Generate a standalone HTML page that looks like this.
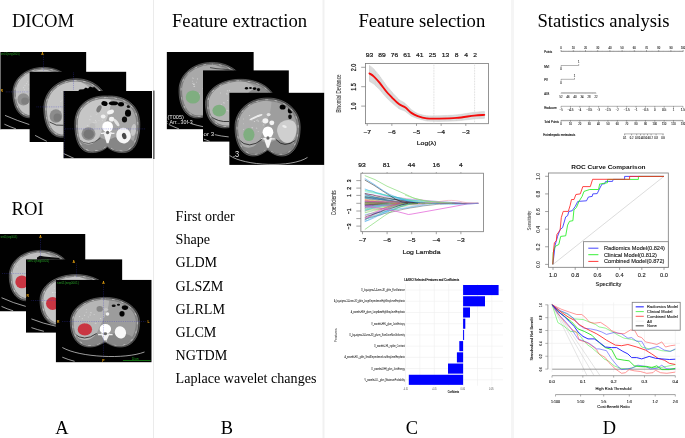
<!DOCTYPE html>
<html><head><meta charset="utf-8"><title>Radiomics workflow</title>
<style>
html,body{margin:0;padding:0;background:#fff;-webkit-font-smoothing:antialiased;}
body{width:685px;height:438px;overflow:hidden;font-family:"Liberation Serif",serif;}
svg{display:block;will-change:transform;opacity:0.999;filter:blur(0.32px);}
.ff-s{font-family:"Liberation Serif",serif;}
.ff-n{font-family:"Liberation Sans",sans-serif;}
</style></head><body>
<svg width="685" height="438" viewBox="0 0 685 438">
<rect width="685" height="438" fill="#fff"/>
<rect x="153" y="0" width="1" height="438" fill="#ebebeb"/>
<rect x="322.5" y="0" width="2" height="438" fill="#f1f1f1"/>
<rect x="511" y="0" width="3" height="438" fill="#f5f5f5"/>
<text class="ff-s" x="11.9" y="26.9" font-size="18.65" text-anchor="start" fill="#000" font-weight="normal" >DICOM</text>
<text class="ff-s" x="11.6" y="215.1" font-size="18.65" text-anchor="start" fill="#000" font-weight="normal" >ROI</text>
<text class="ff-s" x="172.0" y="26.9" font-size="18.65" text-anchor="start" fill="#000" font-weight="normal" >Feature extraction</text>
<text class="ff-s" x="358.4" y="26.9" font-size="18.65" text-anchor="start" fill="#000" font-weight="normal" >Feature selection</text>
<text class="ff-s" x="537.4" y="26.9" font-size="18.65" text-anchor="start" fill="#000" font-weight="normal" >Statistics analysis</text>
<text class="ff-s" x="62" y="434.4" font-size="18.4" text-anchor="middle" fill="#000" font-weight="normal" >A</text>
<text class="ff-s" x="227" y="434.4" font-size="18.4" text-anchor="middle" fill="#000" font-weight="normal" >B</text>
<text class="ff-s" x="412" y="434.4" font-size="18.4" text-anchor="middle" fill="#000" font-weight="normal" >C</text>
<text class="ff-s" x="609.3" y="434.4" font-size="18.4" text-anchor="middle" fill="#000" font-weight="normal" >D</text>
<text class="ff-s" x="175.6" y="221.0" font-size="14.1" text-anchor="start" fill="#000" font-weight="normal" >First order</text>
<text class="ff-s" x="175.6" y="244.2" font-size="14.1" text-anchor="start" fill="#000" font-weight="normal" >Shape</text>
<text class="ff-s" x="175.6" y="267.4" font-size="14.1" text-anchor="start" fill="#000" font-weight="normal" >GLDM</text>
<text class="ff-s" x="175.6" y="290.6" font-size="14.1" text-anchor="start" fill="#000" font-weight="normal" >GLSZM</text>
<text class="ff-s" x="175.6" y="313.8" font-size="14.1" text-anchor="start" fill="#000" font-weight="normal" >GLRLM</text>
<text class="ff-s" x="175.6" y="337.0" font-size="14.1" text-anchor="start" fill="#000" font-weight="normal" >GLCM</text>
<text class="ff-s" x="175.6" y="360.2" font-size="14.1" text-anchor="start" fill="#000" font-weight="normal" >NGTDM</text>
<text class="ff-s" x="175.6" y="383.4" font-size="14.1" text-anchor="start" fill="#000" font-weight="normal" >Laplace wavelet changes</text>
<defs>
<filter id="b4" x="-10%" y="-10%" width="120%" height="120%"><feGaussianBlur stdDeviation="0.45"/></filter>
<filter id="b7" x="-10%" y="-10%" width="120%" height="120%"><feGaussianBlur stdDeviation="0.8"/></filter>
<filter id="b3" x="-10%" y="-10%" width="120%" height="120%"><feGaussianBlur stdDeviation="0.3"/></filter>
</defs>
<rect x="0" y="52" width="1.2" height="77.4" fill="#6e6e6e"/>
<clipPath id="ctc1"><rect x="0.9" y="52" width="85.50" height="77.40"/></clipPath><clipPath id="ctb1"><path d="M43.50,69.79 C59.01,69.79 71.19,79.37 71.19,92.60 C71.19,105.83 65.65,115.41 55.68,115.41 C49.59,115.41 46.27,112.21 43.50,110.84 C40.73,112.21 37.41,115.41 31.32,115.41 C21.35,115.41 15.81,105.83 15.81,92.60 C15.81,79.37 27.99,69.79 43.50,69.79 Z"/></clipPath><g clip-path="url(#ctc1)"><rect x="0.9" y="52" width="85.50" height="77.40" fill="#000"/><g filter="url(#b4)"><path d="M5,115.4 Q18,121 29.5,124.6" fill="none" stroke="#e0e0e0" stroke-width="0.7"/><path d="M4.4,124.2 Q10,126.8 16,128.9" fill="none" stroke="#e0e0e0" stroke-width="0.7"/><path d="M43.50,67.40 C60.64,67.40 74.10,77.98 74.10,92.60 C74.10,107.22 67.98,117.80 56.96,117.80 C50.23,117.80 46.56,114.27 43.50,112.76 C40.44,114.27 36.77,117.80 30.04,117.80 C19.02,117.80 12.90,107.22 12.90,92.60 C12.90,77.98 26.36,67.40 43.50,67.40 Z" fill="#343434" stroke="#909090" stroke-width="0.5"/><path d="M43.50,68.21 C60.09,68.21 73.12,78.45 73.12,92.60 C73.12,106.75 67.20,116.99 56.53,116.99 C50.02,116.99 46.46,113.58 43.50,112.11 C40.54,113.58 36.98,116.99 30.47,116.99 C19.80,116.99 13.88,106.75 13.88,92.60 C13.88,78.45 26.91,68.21 43.50,68.21 Z" fill="#8a8a8a"/><path d="M43.50,69.04 C59.52,69.04 72.11,78.93 72.11,92.60 C72.11,106.27 66.39,116.16 56.09,116.16 C49.79,116.16 46.36,112.86 43.50,111.45 C40.64,112.86 37.21,116.16 30.91,116.16 C20.61,116.16 14.89,106.27 14.89,92.60 C14.89,78.93 27.48,69.04 43.50,69.04 Z" fill="none" stroke="#f2f2f2" stroke-width="0.8" stroke-dasharray="2.6 6.5" stroke-dashoffset="2" opacity="0.6"/><path d="M43.50,69.79 C59.01,69.79 71.19,79.37 71.19,92.60 C71.19,105.83 65.65,115.41 55.68,115.41 C49.59,115.41 46.27,112.21 43.50,110.84 C40.73,112.21 37.41,115.41 31.32,115.41 C21.35,115.41 15.81,105.83 15.81,92.60 C15.81,79.37 27.99,69.79 43.50,69.79 Z" fill="#a2a2a2" stroke="#5a5a5a" stroke-width="0.35"/><g clip-path="url(#ctb1)"><ellipse cx="37.99" cy="93.10" rx="26.32" ry="24.70" fill="#c2c2c2" /><ellipse cx="60.33" cy="90.08" rx="12.85" ry="13.86" fill="#8c8c8c" /><ellipse cx="45.03" cy="109.23" rx="7.96" ry="6.55" fill="#808080" /><ellipse cx="43.50" cy="106.46" rx="4.59" ry="4.28" fill="#ffffff" /><ellipse cx="33.97" cy="97.56" rx="0.53" ry="0.35" fill="#e2e2e2" transform="rotate(-1.2581593142261411 33.97 97.56)" opacity="0.8"/><ellipse cx="24.52" cy="89.83" rx="0.60" ry="0.37" fill="#e2e2e2" transform="rotate(-29.543887764900703 24.52 89.83)" opacity="0.8"/><ellipse cx="29.00" cy="84.80" rx="0.72" ry="0.50" fill="#e2e2e2" transform="rotate(43.91346570892348 29.00 84.80)" opacity="0.8"/><ellipse cx="34.14" cy="88.15" rx="0.48" ry="0.48" fill="#e2e2e2" transform="rotate(9.065181172855034 34.14 88.15)" opacity="0.8"/><ellipse cx="33.06" cy="98.14" rx="0.83" ry="0.51" fill="#e2e2e2" transform="rotate(-34.068458035924635 33.06 98.14)" opacity="0.8"/><ellipse cx="30.20" cy="91.13" rx="0.89" ry="0.36" fill="#e2e2e2" transform="rotate(27.25251174503056 30.20 91.13)" opacity="0.8"/><ellipse cx="23.60" cy="87.68" rx="0.64" ry="0.51" fill="#e2e2e2" transform="rotate(11.991618015226152 23.60 87.68)" opacity="0.8"/><ellipse cx="29.82" cy="92.24" rx="0.61" ry="0.53" fill="#e2e2e2" transform="rotate(-42.57572427746677 29.82 92.24)" opacity="0.8"/><ellipse cx="27.57" cy="81.83" rx="0.44" ry="0.35" fill="#e2e2e2" transform="rotate(22.349538630218888 27.57 81.83)" opacity="0.8"/><ellipse cx="25.65" cy="91.90" rx="0.61" ry="0.33" fill="#e2e2e2" transform="rotate(24.55198931804702 25.65 91.90)" opacity="0.8"/><ellipse cx="24.98" cy="85.67" rx="0.54" ry="0.50" fill="#e2e2e2" transform="rotate(38.875863841685415 24.98 85.67)" opacity="0.8"/><ellipse cx="28.46" cy="88.87" rx="0.43" ry="0.34" fill="#e2e2e2" transform="rotate(-50.53891606667588 28.46 88.87)" opacity="0.8"/><ellipse cx="26.61" cy="83.55" rx="0.46" ry="0.53" fill="#e2e2e2" transform="rotate(15.574352496848533 26.61 83.55)" opacity="0.8"/><ellipse cx="33.13" cy="79.43" rx="0.72" ry="0.43" fill="#e2e2e2" transform="rotate(58.16804408075693 33.13 79.43)" opacity="0.8"/><ellipse cx="23.40" cy="99.40" rx="6.00" ry="6.20" fill="#909090" /><ellipse cx="25.00" cy="101.00" rx="3.80" ry="3.60" fill="#7e7e7e" /></g></g><line x1="43.4" y1="55.5" x2="43.4" y2="70.5" stroke="#3c3cc8" stroke-width="0.55" stroke-dasharray="0.8 1.0" opacity="0.75"/><line x1="5.8" y1="91.9" x2="29.4" y2="91.9" stroke="#5a5ad8" stroke-width="0.55" stroke-dasharray="0.8 1.0" opacity="0.75"/><text class="ff-n" x="42.4" y="55.2" font-size="3.4" font-weight="bold" text-anchor="middle" fill="#f0a810">A</text><text class="ff-n" x="1.8" y="91.8" font-size="3.4" font-weight="bold" text-anchor="middle" fill="#f0a810">R</text><text class="ff-n" x="0.2" y="54.8" font-size="2.9" fill="#2aaa2a" opacity="0.95" textLength="19.6" lengthAdjust="spacingAndGlyphs">ser01(seg0001)</text></g>
<clipPath id="ctc2"><rect x="29.4" y="71.6" width="97.00" height="70.40"/></clipPath><clipPath id="ctb2"><path d="M76.00,81.48 C92.32,81.48 105.14,92.62 105.14,108.00 C105.14,123.38 99.31,134.52 88.82,134.52 C82.41,134.52 78.91,130.80 76.00,129.21 C73.09,130.80 69.59,134.52 63.18,134.52 C52.69,134.52 46.86,123.38 46.86,108.00 C46.86,92.62 59.68,81.48 76.00,81.48 Z"/></clipPath><g clip-path="url(#ctc2)"><rect x="29.4" y="71.6" width="97.00" height="70.40" fill="#000"/><g filter="url(#b4)"><path d="M35.1,135.4 Q41,138.6 46.8,141.3" fill="none" stroke="#e0e0e0" stroke-width="0.7"/><path d="M76.00,78.70 C94.03,78.70 108.20,91.01 108.20,108.00 C108.20,124.99 101.76,137.30 90.17,137.30 C83.08,137.30 79.22,133.20 76.00,131.44 C72.78,133.20 68.92,137.30 61.83,137.30 C50.24,137.30 43.80,124.99 43.80,108.00 C43.80,91.01 57.97,78.70 76.00,78.70 Z" fill="#343434" stroke="#909090" stroke-width="0.5"/><path d="M76.00,79.64 C93.45,79.64 107.17,91.55 107.17,108.00 C107.17,124.45 100.94,136.36 89.71,136.36 C82.86,136.36 79.12,132.39 76.00,130.69 C72.88,132.39 69.14,136.36 62.29,136.36 C51.06,136.36 44.83,124.45 44.83,108.00 C44.83,91.55 58.55,79.64 76.00,79.64 Z" fill="#8a8a8a"/><path d="M76.00,80.60 C92.86,80.60 106.11,92.11 106.11,108.00 C106.11,123.89 100.09,135.40 89.25,135.40 C82.62,135.40 79.01,131.56 76.00,129.92 C72.99,131.56 69.38,135.40 62.75,135.40 C51.91,135.40 45.89,123.89 45.89,108.00 C45.89,92.11 59.14,80.60 76.00,80.60 Z" fill="none" stroke="#f2f2f2" stroke-width="0.8" stroke-dasharray="2.6 6.5" stroke-dashoffset="2" opacity="0.6"/><path d="M76.00,81.48 C92.32,81.48 105.14,92.62 105.14,108.00 C105.14,123.38 99.31,134.52 88.82,134.52 C82.41,134.52 78.91,130.80 76.00,129.21 C73.09,130.80 69.59,134.52 63.18,134.52 C52.69,134.52 46.86,123.38 46.86,108.00 C46.86,92.62 59.68,81.48 76.00,81.48 Z" fill="#a2a2a2" stroke="#5a5a5a" stroke-width="0.35"/><g clip-path="url(#ctb2)"><ellipse cx="70.20" cy="108.59" rx="27.69" ry="28.71" fill="#c4c4c4" /><ellipse cx="93.71" cy="105.07" rx="13.52" ry="16.12" fill="#8c8c8c" /><ellipse cx="77.61" cy="127.34" rx="8.37" ry="7.62" fill="#808080" /><ellipse cx="76.00" cy="124.12" rx="4.83" ry="4.98" fill="#ffffff" /><ellipse cx="65.11" cy="104.73" rx="0.57" ry="0.47" fill="#e2e2e2" transform="rotate(-43.35708801424431 65.11 104.73)" opacity="0.8"/><ellipse cx="65.43" cy="107.58" rx="0.77" ry="0.34" fill="#e2e2e2" transform="rotate(28.87862387280073 65.43 107.58)" opacity="0.8"/><ellipse cx="60.96" cy="101.46" rx="0.64" ry="0.41" fill="#e2e2e2" transform="rotate(-10.491590018633921 60.96 101.46)" opacity="0.8"/><ellipse cx="64.92" cy="104.41" rx="0.36" ry="0.53" fill="#e2e2e2" transform="rotate(-11.64650260669002 64.92 104.41)" opacity="0.8"/><ellipse cx="64.04" cy="110.19" rx="0.55" ry="0.54" fill="#e2e2e2" transform="rotate(-34.76012642028238 64.04 110.19)" opacity="0.8"/><ellipse cx="64.03" cy="113.54" rx="0.65" ry="0.54" fill="#e2e2e2" transform="rotate(40.64194158901893 64.03 113.54)" opacity="0.8"/><ellipse cx="60.26" cy="107.96" rx="0.81" ry="0.55" fill="#e2e2e2" transform="rotate(-56.355634254712335 60.26 107.96)" opacity="0.8"/><ellipse cx="61.49" cy="91.68" rx="0.71" ry="0.35" fill="#e2e2e2" transform="rotate(35.59131273542991 61.49 91.68)" opacity="0.8"/><ellipse cx="62.03" cy="100.24" rx="0.70" ry="0.35" fill="#e2e2e2" transform="rotate(-55.030387702527854 62.03 100.24)" opacity="0.8"/><ellipse cx="59.93" cy="109.69" rx="0.57" ry="0.46" fill="#e2e2e2" transform="rotate(40.34078596506407 59.93 109.69)" opacity="0.8"/><ellipse cx="73.74" cy="101.06" rx="0.90" ry="0.50" fill="#e2e2e2" transform="rotate(-23.242423925015373 73.74 101.06)" opacity="0.8"/><ellipse cx="66.03" cy="113.21" rx="0.65" ry="0.47" fill="#e2e2e2" transform="rotate(-48.777143800039 66.03 113.21)" opacity="0.8"/><ellipse cx="66.36" cy="117.15" rx="0.68" ry="0.47" fill="#e2e2e2" transform="rotate(-48.52257579305162 66.36 117.15)" opacity="0.8"/><ellipse cx="53.68" cy="112.41" rx="0.71" ry="0.55" fill="#e2e2e2" transform="rotate(-36.37281050026868 53.68 112.41)" opacity="0.8"/><path d="M77.5,92 L79.5,89.6 L83.5,89.2 L85.8,87.4 L88,88.6 L90,86.4 L93,87.6 L96,85.8 L99,87.2 L102,86.4 L106,88.2 L108,92 Z" fill="#050505"/><ellipse cx="55.90" cy="116.00" rx="6.30" ry="6.80" fill="#8c8c8c" /><ellipse cx="57.30" cy="117.60" rx="3.80" ry="4.20" fill="#7a7a7a" /><path d="M49.5,122 Q56,126.5 63.5,125.3" fill="none" stroke="#2a2a2a" stroke-width="0.8"/></g></g><line x1="73.5" y1="72.5" x2="73.5" y2="90" stroke="#3c3cc8" stroke-width="0.55" stroke-dasharray="0.8 1.0" opacity="0.75"/><line x1="36.5" y1="106.9" x2="63.3" y2="106.9" stroke="#3c3cc8" stroke-width="0.55" stroke-dasharray="0.8 1.0" opacity="0.75"/></g>
<clipPath id="ctc3"><rect x="63.3" y="91" width="88.80" height="67.50"/></clipPath><clipPath id="ctb3"><path d="M107.30,98.69 C123.77,97.92 136.71,106.88 136.71,123.79 C136.71,139.67 132.01,150.17 121.42,149.91 C114.65,149.91 109.95,147.35 107.30,144.79 C104.65,147.35 99.95,149.91 93.18,149.91 C82.59,150.17 77.89,139.67 77.89,123.79 C77.89,106.88 90.83,97.92 107.30,98.69 Z"/></clipPath><g clip-path="url(#ctc3)"><rect x="63.3" y="91" width="88.80" height="67.50" fill="#000"/><g filter="url(#b4)"><path d="M63.5,153.5 Q69,156 74,158.4" fill="none" stroke="#e0e0e0" stroke-width="0.7"/><path d="M107.30,96.00 C125.50,95.15 139.80,105.06 139.80,123.73 C139.80,141.28 134.60,152.88 122.90,152.60 C115.42,152.60 110.22,149.77 107.30,146.94 C104.38,149.77 99.17,152.60 91.70,152.60 C80.00,152.88 74.80,141.28 74.80,123.73 C74.80,105.06 89.10,95.15 107.30,96.00 Z" fill="#343434" stroke="#909090" stroke-width="0.5"/><path d="M107.30,96.91 C124.92,96.08 138.76,105.67 138.76,123.75 C138.76,140.74 133.73,151.97 122.40,151.69 C115.16,151.69 110.13,148.95 107.30,146.22 C104.47,148.95 99.44,151.69 92.20,151.69 C80.87,151.97 75.84,140.74 75.84,123.75 C75.84,105.67 89.68,96.08 107.30,96.91 Z" fill="#8a8a8a"/><path d="M107.30,97.84 C124.32,97.05 137.69,106.31 137.69,123.77 C137.69,140.18 132.83,151.03 121.89,150.76 C114.90,150.76 110.03,148.11 107.30,145.47 C104.57,148.11 99.70,150.76 92.71,150.76 C81.77,151.03 76.91,140.18 76.91,123.77 C76.91,106.31 90.28,97.05 107.30,97.84 Z" fill="none" stroke="#f2f2f2" stroke-width="0.8" stroke-dasharray="2.6 6.5" stroke-dashoffset="2" opacity="0.6"/><path d="M107.30,98.69 C123.77,97.92 136.71,106.88 136.71,123.79 C136.71,139.67 132.01,150.17 121.42,149.91 C114.65,149.91 109.95,147.35 107.30,144.79 C104.65,147.35 99.95,149.91 93.18,149.91 C82.59,150.17 77.89,139.67 77.89,123.79 C77.89,106.88 90.83,97.92 107.30,98.69 Z" fill="#a6a6a6" stroke="#5a5a5a" stroke-width="0.35"/><g clip-path="url(#ctb3)"><ellipse cx="94.30" cy="145.24" rx="14.30" ry="8.49" fill="#868686" /><ellipse cx="120.30" cy="145.24" rx="14.30" ry="8.49" fill="#868686" /><path d="M76.42,124.30 C76.42,98.83 97.55,96.00 111.20,99.96 C110.55,112.98 104.70,122.88 100.80,133.36 C97.55,144.11 87.80,147.51 81.30,141.85 C77.40,137.03 76.42,129.96 76.42,124.30 Z" fill="#c6c6c6"/><ellipse cx="107.62" cy="126.85" rx="5.36" ry="5.66" fill="#ffffff" /><path d="M103.40,132.22 L111.85,132.22 L108.60,143.26 L106.65,143.26 Z" fill="#f4f4f4"/><path d="M100.80,133.36 L114.45,133.36" stroke="#efefef" stroke-width="1.1"/><ellipse cx="107.62" cy="132.51" rx="1.62" ry="1.70" fill="#6a6a6a" /><ellipse cx="87.63" cy="125.48" rx="0.82" ry="0.34" fill="#e2e2e2" transform="rotate(-32.980857530622394 87.63 125.48)" opacity="0.8"/><ellipse cx="96.32" cy="121.48" rx="0.35" ry="0.34" fill="#e2e2e2" transform="rotate(1.6455850203210787 96.32 121.48)" opacity="0.8"/><ellipse cx="102.38" cy="120.22" rx="0.56" ry="0.40" fill="#e2e2e2" transform="rotate(22.957155409485523 102.38 120.22)" opacity="0.8"/><ellipse cx="92.61" cy="123.26" rx="0.81" ry="0.45" fill="#e2e2e2" transform="rotate(-46.558820744442286 92.61 123.26)" opacity="0.8"/><ellipse cx="95.90" cy="122.15" rx="0.88" ry="0.33" fill="#e2e2e2" transform="rotate(15.038036246740916 95.90 122.15)" opacity="0.8"/><ellipse cx="95.48" cy="120.49" rx="0.56" ry="0.42" fill="#e2e2e2" transform="rotate(50.02673523775995 95.48 120.49)" opacity="0.8"/><ellipse cx="95.23" cy="125.47" rx="0.49" ry="0.31" fill="#e2e2e2" transform="rotate(20.846018457923748 95.23 125.47)" opacity="0.8"/><ellipse cx="96.12" cy="114.41" rx="0.37" ry="0.48" fill="#e2e2e2" transform="rotate(28.445522050072825 96.12 114.41)" opacity="0.8"/><ellipse cx="90.84" cy="116.15" rx="0.81" ry="0.46" fill="#e2e2e2" transform="rotate(10.79683345731705 90.84 116.15)" opacity="0.8"/><ellipse cx="89.84" cy="119.74" rx="0.60" ry="0.50" fill="#e2e2e2" transform="rotate(22.05063968451627 89.84 119.74)" opacity="0.8"/><ellipse cx="87.94" cy="130.64" rx="0.81" ry="0.31" fill="#e2e2e2" transform="rotate(-41.12768947247574 87.94 130.64)" opacity="0.8"/><ellipse cx="93.93" cy="122.81" rx="0.76" ry="0.46" fill="#e2e2e2" transform="rotate(5.184202446107207 93.93 122.81)" opacity="0.8"/><ellipse cx="98.87" cy="120.70" rx="0.46" ry="0.33" fill="#e2e2e2" transform="rotate(-19.18434162824687 98.87 120.70)" opacity="0.8"/><ellipse cx="97.77" cy="113.07" rx="0.38" ry="0.41" fill="#e2e2e2" transform="rotate(-54.242201439261066 97.77 113.07)" opacity="0.8"/><ellipse cx="123.50" cy="135.60" rx="7.30" ry="7.80" fill="#f6f6f6" transform="rotate(-15 123.50 135.60)" /><ellipse cx="124.20" cy="136.00" rx="2.20" ry="3.20" fill="#4a4a4a" transform="rotate(-15 124.20 136.00)" /><ellipse cx="92.50" cy="126.00" rx="3.00" ry="3.00" fill="#bcbcbc" /><ellipse cx="104.50" cy="103.50" rx="3.20" ry="2.40" fill="#050505" transform="rotate(20 104.50 103.50)" /><ellipse cx="113.50" cy="103.20" rx="4.60" ry="2.00" fill="#050505" /><ellipse cx="121.00" cy="104.20" rx="3.00" ry="2.20" fill="#050505" /><ellipse cx="128.00" cy="113.20" rx="3.00" ry="3.60" fill="#050505" /><ellipse cx="124.50" cy="119.50" rx="2.60" ry="3.00" fill="#111" /><ellipse cx="128.50" cy="106.50" rx="1.80" ry="1.60" fill="#111" /><ellipse cx="99.00" cy="108.80" rx="2.20" ry="3.80" fill="#7a7a7a" transform="rotate(25 99.00 108.80)" /><ellipse cx="110.50" cy="112.00" rx="3.60" ry="2.20" fill="#f4f4f4" transform="rotate(-20 110.50 112.00)" /><ellipse cx="103.20" cy="116.50" rx="2.40" ry="2.00" fill="#f0f0f0" /><ellipse cx="111.60" cy="119.20" rx="2.60" ry="2.40" fill="#f4f4f4" /><ellipse cx="116.50" cy="122.50" rx="1.60" ry="4.50" fill="#e4e4e4" transform="rotate(-35 116.50 122.50)" /><ellipse cx="133.50" cy="130.00" rx="2.60" ry="6.00" fill="#c8c8c8" transform="rotate(8 133.50 130.00)" /><path d="M78.5,139 Q88,148.5 100.5,138" fill="none" stroke="#3a3a3a" stroke-width="0.7"/><ellipse cx="88.50" cy="133.80" rx="7.00" ry="6.60" fill="#8e8e8e" /><ellipse cx="88.70" cy="134.20" rx="5.20" ry="4.80" fill="#767676" /></g></g><line x1="64.3" y1="91.5" x2="64.3" y2="158.5" stroke="#2c2ca0" stroke-width="0.55" stroke-dasharray="0.8 1.0" opacity="0.75"/><line x1="65" y1="128.9" x2="146" y2="128.9" stroke="#3c3cc8" stroke-width="0.55" stroke-dasharray="0.8 1.0" opacity="0.75"/></g>
<rect x="153.0" y="90.6" width="1.6" height="68.4" fill="#666"/>
<clipPath id="ctc4"><rect x="166.6" y="52" width="87.20" height="77.40"/></clipPath><clipPath id="ctb4"><path d="M212.00,65.04 C228.72,65.04 241.87,75.61 241.87,90.20 C241.87,104.79 235.89,115.36 225.14,115.36 C218.57,115.36 214.99,111.84 212.00,110.33 C209.01,111.84 205.43,115.36 198.86,115.36 C188.11,115.36 182.13,104.79 182.13,90.20 C182.13,75.61 195.28,65.04 212.00,65.04 Z"/></clipPath><g clip-path="url(#ctc4)"><rect x="166.6" y="52" width="87.20" height="77.40" fill="#000"/><g filter="url(#b4)"><path d="M168.8,124.5 Q174,127 179,128.9" fill="none" stroke="#e0e0e0" stroke-width="0.7"/><path d="M191.4,123.7 Q197,125.4 203.1,126.7" fill="none" stroke="#e0e0e0" stroke-width="0.7"/><path d="M212.00,62.40 C230.48,62.40 245.00,74.08 245.00,90.20 C245.00,106.32 238.40,118.00 226.52,118.00 C219.26,118.00 215.30,114.11 212.00,112.44 C208.70,114.11 204.74,118.00 197.48,118.00 C185.60,118.00 179.00,106.32 179.00,90.20 C179.00,74.08 193.52,62.40 212.00,62.40 Z" fill="#343434" stroke="#909090" stroke-width="0.5"/><path d="M212.00,63.29 C229.89,63.29 243.94,74.59 243.94,90.20 C243.94,105.81 237.56,117.11 226.06,117.11 C219.03,117.11 215.19,113.34 212.00,111.73 C208.81,113.34 204.97,117.11 197.94,117.11 C186.44,117.11 180.06,105.81 180.06,90.20 C180.06,74.59 194.11,63.29 212.00,63.29 Z" fill="#828282"/><path d="M212.00,64.21 C229.28,64.21 242.85,75.12 242.85,90.20 C242.85,105.28 236.68,116.19 225.58,116.19 C218.79,116.19 215.09,112.55 212.00,110.99 C208.91,112.55 205.21,116.19 198.42,116.19 C187.32,116.19 181.15,105.28 181.15,90.20 C181.15,75.12 194.72,64.21 212.00,64.21 Z" fill="none" stroke="#f2f2f2" stroke-width="0.8" stroke-dasharray="2.6 6.5" stroke-dashoffset="2" opacity="0.6"/><path d="M212.00,65.04 C228.72,65.04 241.87,75.61 241.87,90.20 C241.87,104.79 235.89,115.36 225.14,115.36 C218.57,115.36 214.99,111.84 212.00,110.33 C209.01,111.84 205.43,115.36 198.86,115.36 C188.11,115.36 182.13,104.79 182.13,90.20 C182.13,75.61 195.28,65.04 212.00,65.04 Z" fill="#969696" stroke="#5a5a5a" stroke-width="0.35"/><g clip-path="url(#ctb4)"><ellipse cx="206.06" cy="90.76" rx="28.38" ry="27.24" fill="#a9a9a9" /><ellipse cx="230.15" cy="87.42" rx="13.86" ry="15.29" fill="#8c8c8c" /><ellipse cx="213.65" cy="108.55" rx="8.58" ry="7.23" fill="#808080" /><ellipse cx="212.00" cy="105.49" rx="4.95" ry="4.73" fill="#ffffff" /><ellipse cx="205.65" cy="89.20" rx="0.36" ry="0.43" fill="#e2e2e2" transform="rotate(57.19753635885692 205.65 89.20)" opacity="0.8"/><ellipse cx="195.17" cy="99.91" rx="0.70" ry="0.52" fill="#e2e2e2" transform="rotate(-57.63952475843447 195.17 99.91)" opacity="0.8"/><ellipse cx="197.51" cy="78.94" rx="0.68" ry="0.39" fill="#e2e2e2" transform="rotate(57.23680625155248 197.51 78.94)" opacity="0.8"/><ellipse cx="192.97" cy="78.19" rx="0.73" ry="0.44" fill="#e2e2e2" transform="rotate(37.61004625045034 192.97 78.19)" opacity="0.8"/><ellipse cx="192.54" cy="81.16" rx="0.43" ry="0.44" fill="#e2e2e2" transform="rotate(-41.46564530163943 192.54 81.16)" opacity="0.8"/><ellipse cx="192.96" cy="83.32" rx="0.77" ry="0.45" fill="#e2e2e2" transform="rotate(-16.192998669493534 192.96 83.32)" opacity="0.8"/><ellipse cx="194.31" cy="86.37" rx="0.89" ry="0.51" fill="#e2e2e2" transform="rotate(-12.56124555798354 194.31 86.37)" opacity="0.8"/><ellipse cx="199.40" cy="93.82" rx="0.70" ry="0.41" fill="#e2e2e2" transform="rotate(52.947289992884905 199.40 93.82)" opacity="0.8"/><ellipse cx="203.03" cy="88.69" rx="0.63" ry="0.31" fill="#e2e2e2" transform="rotate(-4.045446621906045 203.03 88.69)" opacity="0.8"/><ellipse cx="193.88" cy="84.50" rx="0.90" ry="0.39" fill="#e2e2e2" transform="rotate(-15.86084725438839 193.88 84.50)" opacity="0.8"/><ellipse cx="194.56" cy="84.11" rx="0.61" ry="0.34" fill="#e2e2e2" transform="rotate(-53.292137979329034 194.56 84.11)" opacity="0.8"/><ellipse cx="196.36" cy="82.20" rx="0.44" ry="0.36" fill="#e2e2e2" transform="rotate(-10.039213973264566 196.36 82.20)" opacity="0.8"/><ellipse cx="203.52" cy="94.92" rx="0.75" ry="0.54" fill="#e2e2e2" transform="rotate(-54.88341873404742 203.52 94.92)" opacity="0.8"/><ellipse cx="194.69" cy="95.89" rx="0.81" ry="0.36" fill="#e2e2e2" transform="rotate(44.012063602955735 194.69 95.89)" opacity="0.8"/><path d="M210,67.6 L216,68.6 L226,69.4 L238,70.6" fill="none" stroke="#222" stroke-width="0.7"/><ellipse cx="192.90" cy="97.00" rx="7.20" ry="6.60" fill="#7fae80" /></g></g><text class="ff-n" x="167.4" y="119.0" font-size="5.6" fill="#e8e8e8" textLength="16.6" lengthAdjust="spacingAndGlyphs">(T005)</text><text class="ff-n" x="166.8" y="124.3" font-size="5.6" fill="#e8e8e8" textLength="25.8" lengthAdjust="spacingAndGlyphs">: Arr...30f-3</text></g>
<clipPath id="ctc5"><rect x="203.0" y="70.2" width="85.90" height="71.60"/></clipPath><clipPath id="ctb5"><path d="M240.50,81.61 C258.24,81.61 272.18,90.84 272.18,103.60 C272.18,116.36 265.84,125.59 254.44,125.59 C247.47,125.59 243.67,122.51 240.50,121.19 C237.33,122.51 233.53,125.59 226.56,125.59 C215.16,125.59 208.82,116.36 208.82,103.60 C208.82,90.84 222.76,81.61 240.50,81.61 Z"/></clipPath><g clip-path="url(#ctc5)"><rect x="203.0" y="70.2" width="85.90" height="71.60" fill="#000"/><g filter="url(#b4)"><path d="M214.8,134.7 Q221,136.2 228.7,136.9" fill="none" stroke="#e0e0e0" stroke-width="0.7"/><path d="M203.9,139.1 Q207,140.4 209.7,141.3" fill="none" stroke="#e0e0e0" stroke-width="0.7"/><path d="M240.50,79.30 C260.10,79.30 275.50,89.51 275.50,103.60 C275.50,117.69 268.50,127.90 255.90,127.90 C248.20,127.90 244.00,124.50 240.50,123.04 C237.00,124.50 232.80,127.90 225.10,127.90 C212.50,127.90 205.50,117.69 205.50,103.60 C205.50,89.51 220.90,79.30 240.50,79.30 Z" fill="#343434" stroke="#909090" stroke-width="0.5"/><path d="M240.50,80.08 C259.47,80.08 274.38,89.96 274.38,103.60 C274.38,117.24 267.60,127.12 255.41,127.12 C247.95,127.12 243.89,123.83 240.50,122.42 C237.11,123.83 233.05,127.12 225.59,127.12 C213.40,127.12 206.62,117.24 206.62,103.60 C206.62,89.96 221.53,80.08 240.50,80.08 Z" fill="#828282"/><path d="M240.50,80.88 C258.83,80.88 273.23,90.42 273.23,103.60 C273.23,116.78 266.68,126.32 254.90,126.32 C247.70,126.32 243.77,123.14 240.50,121.78 C237.23,123.14 233.30,126.32 226.10,126.32 C214.32,126.32 207.78,116.78 207.78,103.60 C207.78,90.42 222.17,80.88 240.50,80.88 Z" fill="none" stroke="#f2f2f2" stroke-width="0.8" stroke-dasharray="2.6 6.5" stroke-dashoffset="2" opacity="0.6"/><path d="M240.50,81.61 C258.24,81.61 272.18,90.84 272.18,103.60 C272.18,116.36 265.84,125.59 254.44,125.59 C247.47,125.59 243.67,122.51 240.50,121.19 C237.33,122.51 233.53,125.59 226.56,125.59 C215.16,125.59 208.82,116.36 208.82,103.60 C208.82,90.84 222.76,81.61 240.50,81.61 Z" fill="#9a9a9a" stroke="#5a5a5a" stroke-width="0.35"/><g clip-path="url(#ctb5)"><ellipse cx="234.20" cy="104.09" rx="30.10" ry="23.81" fill="#b4b4b4" /><ellipse cx="259.75" cy="101.17" rx="14.70" ry="13.37" fill="#8c8c8c" /><ellipse cx="242.25" cy="119.64" rx="9.10" ry="6.32" fill="#808080" /><ellipse cx="240.50" cy="116.97" rx="5.25" ry="4.13" fill="#ffffff" /><ellipse cx="229.95" cy="98.21" rx="0.60" ry="0.33" fill="#e2e2e2" transform="rotate(59.407286441552344 229.95 98.21)" opacity="0.8"/><ellipse cx="230.99" cy="107.80" rx="0.68" ry="0.48" fill="#e2e2e2" transform="rotate(-10.736889118625477 230.99 107.80)" opacity="0.8"/><ellipse cx="221.34" cy="104.60" rx="0.39" ry="0.38" fill="#e2e2e2" transform="rotate(-26.900022289432563 221.34 104.60)" opacity="0.8"/><ellipse cx="227.08" cy="94.59" rx="0.40" ry="0.31" fill="#e2e2e2" transform="rotate(-18.482783780079984 227.08 94.59)" opacity="0.8"/><ellipse cx="227.69" cy="100.51" rx="0.60" ry="0.49" fill="#e2e2e2" transform="rotate(-45.477258415036005 227.69 100.51)" opacity="0.8"/><ellipse cx="229.61" cy="90.46" rx="0.80" ry="0.33" fill="#e2e2e2" transform="rotate(51.72043162853522 229.61 90.46)" opacity="0.8"/><ellipse cx="227.20" cy="110.54" rx="0.79" ry="0.43" fill="#e2e2e2" transform="rotate(30.234363413841706 227.20 110.54)" opacity="0.8"/><ellipse cx="227.30" cy="90.83" rx="0.52" ry="0.54" fill="#e2e2e2" transform="rotate(14.629429474151976 227.30 90.83)" opacity="0.8"/><ellipse cx="223.95" cy="102.87" rx="0.81" ry="0.55" fill="#e2e2e2" transform="rotate(44.66374714321084 223.95 102.87)" opacity="0.8"/><ellipse cx="220.48" cy="92.96" rx="0.57" ry="0.34" fill="#e2e2e2" transform="rotate(51.287817148122116 220.48 92.96)" opacity="0.8"/><ellipse cx="226.92" cy="93.49" rx="0.83" ry="0.34" fill="#e2e2e2" transform="rotate(-47.909082057991206 226.92 93.49)" opacity="0.8"/><ellipse cx="224.15" cy="111.56" rx="0.55" ry="0.32" fill="#e2e2e2" transform="rotate(-38.14869529752404 224.15 111.56)" opacity="0.8"/><ellipse cx="234.51" cy="108.02" rx="0.89" ry="0.31" fill="#e2e2e2" transform="rotate(20.052595986221434 234.51 108.02)" opacity="0.8"/><ellipse cx="228.09" cy="110.97" rx="0.49" ry="0.49" fill="#e2e2e2" transform="rotate(-53.558210192156764 228.09 110.97)" opacity="0.8"/><ellipse cx="246.50" cy="88.30" rx="1.60" ry="1.20" fill="#050505" /><ellipse cx="250.50" cy="88.00" rx="1.40" ry="1.10" fill="#050505" /><ellipse cx="254.50" cy="88.60" rx="1.80" ry="1.30" fill="#050505" /><ellipse cx="258.50" cy="89.60" rx="1.60" ry="1.60" fill="#050505" /><ellipse cx="219.20" cy="110.60" rx="6.80" ry="5.80" fill="#7fae80" /><path d="M209.5,115.5 Q218,122.5 229,121.5" fill="none" stroke="#1e1e1e" stroke-width="0.8"/></g></g><text class="ff-n" x="203.6" y="135.9" font-size="5.6" fill="#e8e8e8" textLength="10.6" lengthAdjust="spacingAndGlyphs">or 3</text></g>
<clipPath id="ctc6"><rect x="229.2" y="92.6" width="95.20" height="72.30"/></clipPath><clipPath id="ctb6"><path d="M267.60,100.75 C284.12,100.75 297.10,111.78 297.10,127.00 C297.10,142.22 291.20,153.25 280.58,153.25 C274.09,153.25 270.55,149.57 267.60,148.00 C264.65,149.57 261.11,153.25 254.62,153.25 C244.00,153.25 238.10,142.22 238.10,127.00 C238.10,111.78 251.08,100.75 267.60,100.75 Z"/></clipPath><g clip-path="url(#ctc6)"><rect x="229.2" y="92.6" width="95.20" height="72.30" fill="#000"/><g filter="url(#b4)"><path d="M229.5,155.4 C244,166 292,168 307.5,157.4" fill="none" stroke="#e0e0e0" stroke-width="0.7"/><path d="M267.60,98.00 C285.86,98.00 300.20,110.18 300.20,127.00 C300.20,143.82 293.68,156.00 281.94,156.00 C274.77,156.00 270.86,151.94 267.60,150.20 C264.34,151.94 260.43,156.00 253.26,156.00 C241.52,156.00 235.00,143.82 235.00,127.00 C235.00,110.18 249.34,98.00 267.60,98.00 Z" fill="#343434" stroke="#909090" stroke-width="0.5"/><path d="M267.60,98.93 C285.27,98.93 299.16,110.72 299.16,127.00 C299.16,143.28 292.85,155.07 281.48,155.07 C274.54,155.07 270.76,151.14 267.60,149.46 C264.44,151.14 260.66,155.07 253.72,155.07 C242.35,155.07 236.04,143.28 236.04,127.00 C236.04,110.72 249.93,98.93 267.60,98.93 Z" fill="#828282"/><path d="M267.60,99.88 C284.67,99.88 298.08,111.27 298.08,127.00 C298.08,142.73 291.98,154.12 281.01,154.12 C274.31,154.12 270.65,150.32 267.60,148.69 C264.55,150.32 260.89,154.12 254.19,154.12 C243.22,154.12 237.12,142.73 237.12,127.00 C237.12,111.27 250.53,99.88 267.60,99.88 Z" fill="none" stroke="#f2f2f2" stroke-width="0.8" stroke-dasharray="2.6 6.5" stroke-dashoffset="2" opacity="0.6"/><path d="M267.60,100.75 C284.12,100.75 297.10,111.78 297.10,127.00 C297.10,142.22 291.20,153.25 280.58,153.25 C274.09,153.25 270.55,149.57 267.60,148.00 C264.65,149.57 261.11,153.25 254.62,153.25 C244.00,153.25 238.10,142.22 238.10,127.00 C238.10,111.78 251.08,100.75 267.60,100.75 Z" fill="#9e9e9e" stroke="#5a5a5a" stroke-width="0.35"/><g clip-path="url(#ctb6)"><ellipse cx="254.56" cy="148.46" rx="14.34" ry="8.70" fill="#868686" /><ellipse cx="280.64" cy="148.46" rx="14.34" ry="8.70" fill="#868686" /><path d="M236.63,127.00 C236.63,100.90 257.82,98.00 271.51,102.06 C270.86,115.40 264.99,125.55 261.08,136.28 C257.82,147.30 248.04,150.78 241.52,144.98 C237.61,140.05 236.63,132.80 236.63,127.00 Z" fill="#adadad"/><path d="M277,131 C277,122 286,118 293,121 C298,124 297.5,134 293,140 C288,146 279.5,143 277,131 Z" fill="#cfcfcf"/><ellipse cx="267.93" cy="132.22" rx="5.38" ry="5.80" fill="#ffffff" /><path d="M263.69,137.73 L272.16,137.73 L268.90,147.73 L266.95,147.73 Z" fill="#f4f4f4"/><path d="M261.08,138.89 L274.77,138.89" stroke="#efefef" stroke-width="1.1"/><ellipse cx="267.93" cy="138.02" rx="1.63" ry="1.74" fill="#6a6a6a" /><ellipse cx="243.42" cy="123.82" rx="0.40" ry="0.39" fill="#e2e2e2" transform="rotate(-54.10064135298906 243.42 123.82)" opacity="0.8"/><ellipse cx="251.86" cy="120.14" rx="0.52" ry="0.50" fill="#e2e2e2" transform="rotate(-53.4459360742927 251.86 120.14)" opacity="0.8"/><ellipse cx="256.56" cy="128.11" rx="0.80" ry="0.42" fill="#e2e2e2" transform="rotate(15.138298011294808 256.56 128.11)" opacity="0.8"/><ellipse cx="257.09" cy="120.78" rx="0.60" ry="0.34" fill="#e2e2e2" transform="rotate(33.78996583563513 257.09 120.78)" opacity="0.8"/><ellipse cx="263.28" cy="124.93" rx="0.54" ry="0.44" fill="#e2e2e2" transform="rotate(-37.62964139847698 263.28 124.93)" opacity="0.8"/><ellipse cx="258.30" cy="121.11" rx="0.60" ry="0.53" fill="#e2e2e2" transform="rotate(11.556157035325228 258.30 121.11)" opacity="0.8"/><ellipse cx="252.21" cy="127.75" rx="0.85" ry="0.48" fill="#e2e2e2" transform="rotate(15.435075322164977 252.21 127.75)" opacity="0.8"/><ellipse cx="243.38" cy="119.02" rx="0.42" ry="0.39" fill="#e2e2e2" transform="rotate(37.51874880966352 243.38 119.02)" opacity="0.8"/><ellipse cx="249.48" cy="115.51" rx="0.71" ry="0.42" fill="#e2e2e2" transform="rotate(7.116639830236579 249.48 115.51)" opacity="0.8"/><ellipse cx="243.57" cy="129.43" rx="0.50" ry="0.36" fill="#e2e2e2" transform="rotate(-22.256213060977473 243.57 129.43)" opacity="0.8"/><ellipse cx="258.25" cy="131.52" rx="0.67" ry="0.32" fill="#e2e2e2" transform="rotate(-29.828339691381018 258.25 131.52)" opacity="0.8"/><ellipse cx="257.13" cy="120.05" rx="0.72" ry="0.40" fill="#e2e2e2" transform="rotate(-40.67722895541033 257.13 120.05)" opacity="0.8"/><ellipse cx="261.93" cy="121.78" rx="0.49" ry="0.44" fill="#e2e2e2" transform="rotate(-24.318704367127772 261.93 121.78)" opacity="0.8"/><ellipse cx="254.36" cy="121.52" rx="0.59" ry="0.46" fill="#e2e2e2" transform="rotate(28.261182610295734 254.36 121.52)" opacity="0.8"/><ellipse cx="282.60" cy="107.00" rx="3.00" ry="2.60" fill="#050505" /><ellipse cx="290.20" cy="110.50" rx="2.40" ry="3.00" fill="#050505" /><ellipse cx="290.00" cy="116.80" rx="1.80" ry="2.40" fill="#080808" /><ellipse cx="286.50" cy="103.60" rx="1.50" ry="1.20" fill="#111" /><ellipse cx="284.50" cy="126.50" rx="2.40" ry="1.20" fill="#ececec" transform="rotate(20 284.50 126.50)" /><ellipse cx="265.40" cy="120.80" rx="3.00" ry="2.60" fill="#f4f4f4" /><ellipse cx="271.80" cy="122.80" rx="2.50" ry="2.40" fill="#f4f4f4" /><ellipse cx="254.50" cy="117.60" rx="5.50" ry="1.00" fill="#ececec" transform="rotate(-25 254.50 117.60)" /><ellipse cx="259.50" cy="115.50" rx="3.20" ry="1.00" fill="#ececec" transform="rotate(-18 259.50 115.50)" /><ellipse cx="268.60" cy="114.60" rx="2.00" ry="1.60" fill="#e4e4e4" /><path d="M238.5,139.5 Q249,150.5 262.5,139" fill="none" stroke="#1e1e1e" stroke-width="0.8"/><path d="M276,139.5 Q284,149 296,140" fill="none" stroke="#1e1e1e" stroke-width="0.8"/><ellipse cx="248.90" cy="134.60" rx="5.60" ry="6.50" fill="#7fae80" /></g></g><text class="ff-n" x="233.0" y="157.0" font-size="8.6" fill="#e8e8e8" textLength="6.2" lengthAdjust="spacingAndGlyphs">.3</text></g>
<clipPath id="ctc7"><rect x="0" y="234" width="85.50" height="77.50"/></clipPath><clipPath id="ctb7"><path d="M40.50,252.79 C56.31,252.79 68.74,262.37 68.74,275.60 C68.74,288.83 63.09,298.41 52.92,298.41 C46.71,298.41 43.32,295.21 40.50,293.84 C37.68,295.21 34.29,298.41 28.08,298.41 C17.91,298.41 12.26,288.83 12.26,275.60 C12.26,262.37 24.69,252.79 40.50,252.79 Z"/></clipPath><g clip-path="url(#ctc7)"><rect x="0" y="234" width="85.50" height="77.50" fill="#000"/><g filter="url(#b4)"><path d="M1.5,297.7 Q13,303 25.8,306.4" fill="none" stroke="#e0e0e0" stroke-width="0.7"/><path d="M1.5,306.4 Q7,309 13.2,310.8" fill="none" stroke="#e0e0e0" stroke-width="0.7"/><path d="M40.50,250.40 C57.97,250.40 71.70,260.98 71.70,275.60 C71.70,290.22 65.46,300.80 54.23,300.80 C47.36,300.80 43.62,297.27 40.50,295.76 C37.38,297.27 33.64,300.80 26.77,300.80 C15.54,300.80 9.30,290.22 9.30,275.60 C9.30,260.98 23.03,250.40 40.50,250.40 Z" fill="#343434" stroke="#909090" stroke-width="0.5"/><path d="M40.50,251.21 C57.41,251.21 70.70,261.45 70.70,275.60 C70.70,289.75 64.66,299.99 53.79,299.99 C47.14,299.99 43.52,296.58 40.50,295.11 C37.48,296.58 33.86,299.99 27.21,299.99 C16.34,299.99 10.30,289.75 10.30,275.60 C10.30,261.45 23.59,251.21 40.50,251.21 Z" fill="#8a8a8a"/><path d="M40.50,252.04 C56.84,252.04 69.67,261.93 69.67,275.60 C69.67,289.27 63.84,299.16 53.34,299.16 C46.92,299.16 43.42,295.86 40.50,294.45 C37.58,295.86 34.08,299.16 27.66,299.16 C17.16,299.16 11.33,289.27 11.33,275.60 C11.33,261.93 24.16,252.04 40.50,252.04 Z" fill="none" stroke="#f2f2f2" stroke-width="0.8" stroke-dasharray="2.6 6.5" stroke-dashoffset="2" opacity="0.6"/><path d="M40.50,252.79 C56.31,252.79 68.74,262.37 68.74,275.60 C68.74,288.83 63.09,298.41 52.92,298.41 C46.71,298.41 43.32,295.21 40.50,293.84 C37.68,295.21 34.29,298.41 28.08,298.41 C17.91,298.41 12.26,288.83 12.26,275.60 C12.26,262.37 24.69,252.79 40.50,252.79 Z" fill="#a2a2a2" stroke="#5a5a5a" stroke-width="0.35"/><g clip-path="url(#ctb7)"><ellipse cx="34.88" cy="276.10" rx="26.83" ry="24.70" fill="#c0c0c0" /><ellipse cx="57.66" cy="273.08" rx="13.10" ry="13.86" fill="#8c8c8c" /><ellipse cx="42.06" cy="292.23" rx="8.11" ry="6.55" fill="#808080" /><ellipse cx="40.50" cy="289.46" rx="4.68" ry="4.28" fill="#ffffff" /><ellipse cx="20.14" cy="280.92" rx="0.57" ry="0.35" fill="#e2e2e2" transform="rotate(38.13571692185961 20.14 280.92)" opacity="0.8"/><ellipse cx="27.86" cy="263.39" rx="0.36" ry="0.40" fill="#e2e2e2" transform="rotate(-22.259479087350677 27.86 263.39)" opacity="0.8"/><ellipse cx="27.24" cy="277.84" rx="0.50" ry="0.43" fill="#e2e2e2" transform="rotate(-58.64821954600639 27.24 277.84)" opacity="0.8"/><ellipse cx="17.39" cy="266.89" rx="0.62" ry="0.38" fill="#e2e2e2" transform="rotate(22.64296785540813 17.39 266.89)" opacity="0.8"/><ellipse cx="21.37" cy="282.02" rx="0.83" ry="0.50" fill="#e2e2e2" transform="rotate(1.4822310120408133 21.37 282.02)" opacity="0.8"/><ellipse cx="29.41" cy="272.97" rx="0.59" ry="0.51" fill="#e2e2e2" transform="rotate(-15.306399403700254 29.41 272.97)" opacity="0.8"/><ellipse cx="34.69" cy="271.61" rx="0.41" ry="0.44" fill="#e2e2e2" transform="rotate(57.722609440050874 34.69 271.61)" opacity="0.8"/><ellipse cx="24.22" cy="282.66" rx="0.71" ry="0.36" fill="#e2e2e2" transform="rotate(36.13267504627376 24.22 282.66)" opacity="0.8"/><ellipse cx="29.39" cy="278.49" rx="0.77" ry="0.31" fill="#e2e2e2" transform="rotate(44.012558616031285 29.39 278.49)" opacity="0.8"/><ellipse cx="22.50" cy="279.39" rx="0.70" ry="0.55" fill="#e2e2e2" transform="rotate(-11.185366726135982 22.50 279.39)" opacity="0.8"/><ellipse cx="26.91" cy="264.62" rx="0.46" ry="0.42" fill="#e2e2e2" transform="rotate(57.535851694690336 26.91 264.62)" opacity="0.8"/><ellipse cx="30.51" cy="270.49" rx="0.66" ry="0.38" fill="#e2e2e2" transform="rotate(-32.80301787282755 30.51 270.49)" opacity="0.8"/><ellipse cx="30.07" cy="278.08" rx="0.62" ry="0.34" fill="#e2e2e2" transform="rotate(57.82552337608908 30.07 278.08)" opacity="0.8"/><ellipse cx="33.42" cy="272.70" rx="0.71" ry="0.49" fill="#e2e2e2" transform="rotate(36.424762048746004 33.42 272.70)" opacity="0.8"/><path d="M37,257.5 L40,255.8 L44,256.6 L52,257.2 L60,258 L60,259.5 L37,259.5 Z" fill="#111"/><ellipse cx="21.90" cy="281.90" rx="6.60" ry="6.40" fill="#c93643" /></g></g><line x1="40.5" y1="238.5" x2="40.5" y2="258" stroke="#3c3cc8" stroke-width="0.55" stroke-dasharray="0.8 1.0" opacity="0.75"/><line x1="2.2" y1="273.4" x2="26" y2="273.4" stroke="#3c3cc8" stroke-width="0.55" stroke-dasharray="0.8 1.0" opacity="0.75"/><text class="ff-n" x="40.5" y="237.7" font-size="3.4" font-weight="bold" text-anchor="middle" fill="#f0a810">A</text><text class="ff-n" x="0.4" y="237.5" font-size="2.9" fill="#2aaa2a" opacity="0.95" textLength="17.0" lengthAdjust="spacingAndGlyphs">ser01(seg0001)</text></g>
<clipPath id="ctc8"><rect x="26" y="259.2" width="96.40" height="73.60"/></clipPath><clipPath id="ctb8"><path d="M76.00,277.03 C94.24,277.03 108.58,286.76 108.58,300.20 C108.58,313.64 102.06,323.37 90.34,323.37 C83.17,323.37 79.26,320.12 76.00,318.73 C72.74,320.12 68.83,323.37 61.66,323.37 C49.94,323.37 43.42,313.64 43.42,300.20 C43.42,286.76 57.76,277.03 76.00,277.03 Z"/></clipPath><g clip-path="url(#ctc8)"><rect x="26" y="259.2" width="96.40" height="73.60" fill="#000"/><g filter="url(#b4)"><path d="M31.4,318.9 Q43,323.6 55.8,326.2" fill="none" stroke="#e0e0e0" stroke-width="0.7"/><path d="M31.4,327.6 Q37,329.6 43.9,331.3" fill="none" stroke="#e0e0e0" stroke-width="0.7"/><path d="M76.00,274.60 C96.16,274.60 112.00,285.35 112.00,300.20 C112.00,315.05 104.80,325.80 91.84,325.80 C83.92,325.80 79.60,322.22 76.00,320.68 C72.40,322.22 68.08,325.80 60.16,325.80 C47.20,325.80 40.00,315.05 40.00,300.20 C40.00,285.35 55.84,274.60 76.00,274.60 Z" fill="#343434" stroke="#909090" stroke-width="0.5"/><path d="M76.00,275.42 C95.51,275.42 110.85,285.83 110.85,300.20 C110.85,314.57 103.88,324.98 91.33,324.98 C83.67,324.98 79.48,321.51 76.00,320.02 C72.52,321.51 68.33,324.98 60.67,324.98 C48.12,324.98 41.15,314.57 41.15,300.20 C41.15,285.83 56.49,275.42 76.00,275.42 Z" fill="#8a8a8a"/><path d="M76.00,276.26 C94.85,276.26 109.66,286.32 109.66,300.20 C109.66,314.08 102.93,324.14 90.81,324.14 C83.41,324.14 79.37,320.78 76.00,319.35 C72.63,320.78 68.59,324.14 61.19,324.14 C49.07,324.14 42.34,314.08 42.34,300.20 C42.34,286.32 57.15,276.26 76.00,276.26 Z" fill="none" stroke="#f2f2f2" stroke-width="0.8" stroke-dasharray="2.6 6.5" stroke-dashoffset="2" opacity="0.6"/><path d="M76.00,277.03 C94.24,277.03 108.58,286.76 108.58,300.20 C108.58,313.64 102.06,323.37 90.34,323.37 C83.17,323.37 79.26,320.12 76.00,318.73 C72.74,320.12 68.83,323.37 61.66,323.37 C49.94,323.37 43.42,313.64 43.42,300.20 C43.42,286.76 57.76,277.03 76.00,277.03 Z" fill="#a2a2a2" stroke="#5a5a5a" stroke-width="0.35"/><g clip-path="url(#ctb8)"><ellipse cx="69.52" cy="300.71" rx="30.96" ry="25.09" fill="#c4c4c4" /><ellipse cx="95.80" cy="297.64" rx="15.12" ry="14.08" fill="#8c8c8c" /><ellipse cx="77.80" cy="317.10" rx="9.36" ry="6.66" fill="#808080" /><ellipse cx="76.00" cy="314.28" rx="5.40" ry="4.35" fill="#ffffff" /><ellipse cx="59.59" cy="303.70" rx="0.65" ry="0.33" fill="#e2e2e2" transform="rotate(0.26577964249904085 59.59 303.70)" opacity="0.8"/><ellipse cx="68.75" cy="295.00" rx="0.64" ry="0.50" fill="#e2e2e2" transform="rotate(-5.882220709933165 68.75 295.00)" opacity="0.8"/><ellipse cx="59.09" cy="307.90" rx="0.44" ry="0.52" fill="#e2e2e2" transform="rotate(46.024017985041894 59.09 307.90)" opacity="0.8"/><ellipse cx="53.58" cy="294.95" rx="0.39" ry="0.34" fill="#e2e2e2" transform="rotate(32.69509256670847 53.58 294.95)" opacity="0.8"/><ellipse cx="59.70" cy="288.70" rx="0.43" ry="0.48" fill="#e2e2e2" transform="rotate(58.71331340534856 59.70 288.70)" opacity="0.8"/><ellipse cx="67.38" cy="290.66" rx="0.60" ry="0.41" fill="#e2e2e2" transform="rotate(-41.59959806416325 67.38 290.66)" opacity="0.8"/><ellipse cx="73.33" cy="300.26" rx="0.57" ry="0.40" fill="#e2e2e2" transform="rotate(-1.9126733053017446 73.33 300.26)" opacity="0.8"/><ellipse cx="73.06" cy="295.89" rx="0.73" ry="0.50" fill="#e2e2e2" transform="rotate(3.1323977486251806 73.06 295.89)" opacity="0.8"/><ellipse cx="54.41" cy="288.74" rx="0.72" ry="0.31" fill="#e2e2e2" transform="rotate(-4.162822050996041 54.41 288.74)" opacity="0.8"/><ellipse cx="52.78" cy="292.47" rx="0.86" ry="0.50" fill="#e2e2e2" transform="rotate(-9.785092703340027 52.78 292.47)" opacity="0.8"/><ellipse cx="50.27" cy="298.48" rx="0.77" ry="0.39" fill="#e2e2e2" transform="rotate(-12.408070360885553 50.27 298.48)" opacity="0.8"/><ellipse cx="55.24" cy="292.56" rx="0.72" ry="0.51" fill="#e2e2e2" transform="rotate(-9.882107098951977 55.24 292.56)" opacity="0.8"/><ellipse cx="57.38" cy="295.32" rx="0.80" ry="0.47" fill="#e2e2e2" transform="rotate(12.613731723923223 57.38 295.32)" opacity="0.8"/><ellipse cx="59.46" cy="299.32" rx="0.49" ry="0.37" fill="#e2e2e2" transform="rotate(32.18775571460128 59.46 299.32)" opacity="0.8"/><ellipse cx="52.60" cy="303.50" rx="6.60" ry="6.40" fill="#c93643" /></g></g><line x1="76.3" y1="263.5" x2="76.3" y2="278" stroke="#3c3cc8" stroke-width="0.55" stroke-dasharray="0.8 1.0" opacity="0.75"/><line x1="31.4" y1="300.6" x2="56" y2="300.6" stroke="#3c3cc8" stroke-width="0.55" stroke-dasharray="0.8 1.0" opacity="0.75"/><text class="ff-n" x="73.8" y="262.5" font-size="3.4" font-weight="bold" text-anchor="middle" fill="#f0a810">A</text><text class="ff-n" x="27.8" y="297.3" font-size="3.4" font-weight="bold" text-anchor="middle" fill="#f0a810">R</text><text class="ff-n" x="27.2" y="262.29999999999995" font-size="2.9" fill="#2aaa2a" opacity="0.95" textLength="22.0" lengthAdjust="spacingAndGlyphs">ser01(seg0001)</text></g>
<clipPath id="ctc9"><rect x="55.7" y="279.7" width="96.00" height="82.70"/></clipPath><clipPath id="ctb9"><path d="M105.00,299.76 C122.54,299.76 136.31,309.18 136.31,322.20 C136.31,335.22 130.05,344.64 118.78,344.64 C111.89,344.64 108.13,341.50 105.00,340.16 C101.87,341.50 98.11,344.64 91.22,344.64 C79.95,344.64 73.69,335.22 73.69,322.20 C73.69,309.18 87.46,299.76 105.00,299.76 Z"/></clipPath><g clip-path="url(#ctc9)"><rect x="55.7" y="279.7" width="96.00" height="82.70" fill="#000"/><g filter="url(#b4)"><path d="M62.3,347.5 C80,357.5 125,359.5 144.5,352" fill="none" stroke="#e0e0e0" stroke-width="0.7"/><path d="M62.3,357.2 Q68,359.6 74.6,361.3" fill="none" stroke="#e0e0e0" stroke-width="0.7"/><path d="M105.00,297.40 C124.38,297.40 139.60,307.82 139.60,322.20 C139.60,336.58 132.68,347.00 120.22,347.00 C112.61,347.00 108.46,343.53 105.00,342.04 C101.54,343.53 97.39,347.00 89.78,347.00 C77.32,347.00 70.40,336.58 70.40,322.20 C70.40,307.82 85.62,297.40 105.00,297.40 Z" fill="#343434" stroke="#909090" stroke-width="0.5"/><path d="M105.00,298.19 C123.76,298.19 138.49,308.28 138.49,322.20 C138.49,336.12 131.79,346.21 119.74,346.21 C112.37,346.21 108.35,342.85 105.00,341.41 C101.65,342.85 97.63,346.21 90.26,346.21 C78.21,346.21 71.51,336.12 71.51,322.20 C71.51,308.28 86.24,298.19 105.00,298.19 Z" fill="#8a8a8a"/><path d="M105.00,299.01 C123.12,299.01 137.35,308.75 137.35,322.20 C137.35,335.65 130.88,345.39 119.23,345.39 C112.12,345.39 108.24,342.14 105.00,340.75 C101.76,342.14 97.88,345.39 90.77,345.39 C79.12,345.39 72.65,335.65 72.65,322.20 C72.65,308.75 86.88,299.01 105.00,299.01 Z" fill="none" stroke="#f2f2f2" stroke-width="0.8" stroke-dasharray="2.6 6.5" stroke-dashoffset="2" opacity="0.6"/><path d="M105.00,299.76 C122.54,299.76 136.31,309.18 136.31,322.20 C136.31,335.22 130.05,344.64 118.78,344.64 C111.89,344.64 108.13,341.50 105.00,340.16 C101.87,341.50 98.11,344.64 91.22,344.64 C79.95,344.64 73.69,335.22 73.69,322.20 C73.69,309.18 87.46,299.76 105.00,299.76 Z" fill="#9c9c9c" stroke="#5a5a5a" stroke-width="0.35"/><g clip-path="url(#ctb9)"><ellipse cx="91.16" cy="340.55" rx="15.22" ry="7.44" fill="#868686" /><ellipse cx="118.84" cy="340.55" rx="15.22" ry="7.44" fill="#868686" /><path d="M72.13,322.20 C72.13,299.88 94.62,297.40 109.15,300.87 C108.46,312.28 102.23,320.96 98.08,330.14 C94.62,339.56 84.24,342.54 77.32,337.58 C73.17,333.36 72.13,327.16 72.13,322.20 Z" fill="#b6b6b6"/><ellipse cx="105.35" cy="328.90" rx="5.71" ry="4.96" fill="#ffffff" /><path d="M100.85,333.61 L109.84,333.61 L106.38,341.05 L104.31,341.05 Z" fill="#f4f4f4"/><path d="M98.08,334.60 L112.61,334.60" stroke="#efefef" stroke-width="1.1"/><ellipse cx="105.35" cy="333.86" rx="1.73" ry="1.49" fill="#6a6a6a" /><ellipse cx="82.24" cy="318.72" rx="0.52" ry="0.53" fill="#e2e2e2" transform="rotate(27.568535834447218 82.24 318.72)" opacity="0.8"/><ellipse cx="90.93" cy="312.77" rx="0.81" ry="0.48" fill="#e2e2e2" transform="rotate(11.106517160181753 90.93 312.77)" opacity="0.8"/><ellipse cx="95.66" cy="323.17" rx="0.88" ry="0.44" fill="#e2e2e2" transform="rotate(-14.585341459702832 95.66 323.17)" opacity="0.8"/><ellipse cx="88.27" cy="317.01" rx="0.53" ry="0.49" fill="#e2e2e2" transform="rotate(-3.447525434976008 88.27 317.01)" opacity="0.8"/><ellipse cx="81.03" cy="327.05" rx="0.64" ry="0.41" fill="#e2e2e2" transform="rotate(-50.17489893127417 81.03 327.05)" opacity="0.8"/><ellipse cx="84.63" cy="315.34" rx="0.51" ry="0.53" fill="#e2e2e2" transform="rotate(14.73224315578426 84.63 315.34)" opacity="0.8"/><ellipse cx="79.62" cy="316.56" rx="0.57" ry="0.54" fill="#e2e2e2" transform="rotate(22.331758768484036 79.62 316.56)" opacity="0.8"/><ellipse cx="85.54" cy="323.56" rx="0.88" ry="0.45" fill="#e2e2e2" transform="rotate(-58.40075415744396 85.54 323.56)" opacity="0.8"/><ellipse cx="94.19" cy="314.42" rx="0.51" ry="0.42" fill="#e2e2e2" transform="rotate(-35.45755147637344 94.19 314.42)" opacity="0.8"/><ellipse cx="86.22" cy="312.13" rx="0.60" ry="0.42" fill="#e2e2e2" transform="rotate(-19.950248655601243 86.22 312.13)" opacity="0.8"/><ellipse cx="86.64" cy="309.39" rx="0.38" ry="0.46" fill="#e2e2e2" transform="rotate(36.70966905994797 86.64 309.39)" opacity="0.8"/><ellipse cx="100.70" cy="318.69" rx="0.87" ry="0.46" fill="#e2e2e2" transform="rotate(41.73674770483595 100.70 318.69)" opacity="0.8"/><ellipse cx="90.15" cy="315.00" rx="0.74" ry="0.45" fill="#e2e2e2" transform="rotate(3.873076603000605 90.15 315.00)" opacity="0.8"/><ellipse cx="91.31" cy="330.88" rx="0.79" ry="0.50" fill="#e2e2e2" transform="rotate(-30.86934935654563 91.31 330.88)" opacity="0.8"/><ellipse cx="120.40" cy="332.40" rx="5.60" ry="6.20" fill="#f8f8f8" transform="rotate(-20 120.40 332.40)" /><ellipse cx="125.00" cy="307.60" rx="3.20" ry="2.40" fill="#050505" /><ellipse cx="122.00" cy="313.80" rx="2.60" ry="2.80" fill="#050505" /><ellipse cx="113.70" cy="305.80" rx="2.00" ry="1.20" fill="#0a0a0a" /><ellipse cx="118.50" cy="304.80" rx="1.60" ry="1.00" fill="#0a0a0a" /><ellipse cx="99.70" cy="308.90" rx="3.20" ry="2.80" fill="#868686" /><ellipse cx="107.50" cy="314.00" rx="1.80" ry="1.80" fill="#f0f0f0" /><ellipse cx="106.00" cy="309.50" rx="2.20" ry="1.60" fill="#c8c8c8" /><path d="M74,333.5 Q84,342.5 96.5,333.5" fill="none" stroke="#1e1e1e" stroke-width="0.8"/><ellipse cx="84.90" cy="329.40" rx="7.20" ry="6.20" fill="#c93643" /></g></g><line x1="103.4" y1="285.5" x2="103.4" y2="358" stroke="#3c3cc8" stroke-width="0.55" stroke-dasharray="0.8 1.0" opacity="0.75"/><line x1="62" y1="321.6" x2="145.5" y2="321.6" stroke="#3c3cc8" stroke-width="0.55" stroke-dasharray="0.8 1.0" opacity="0.75"/><text class="ff-n" x="103.4" y="283.90000000000003" font-size="3.4" font-weight="bold" text-anchor="middle" fill="#f0a810">A</text><text class="ff-n" x="103.4" y="361.70000000000005" font-size="3.4" font-weight="bold" text-anchor="middle" fill="#f0a810">P</text><text class="ff-n" x="58.3" y="322.70000000000005" font-size="3.4" font-weight="bold" text-anchor="middle" fill="#f0a810">R</text><text class="ff-n" x="148.6" y="322.70000000000005" font-size="3.4" font-weight="bold" text-anchor="middle" fill="#f0a810">L</text><text class="ff-n" x="57.1" y="283.7" font-size="2.9" fill="#2aaa2a" opacity="0.95" textLength="21.6" lengthAdjust="spacingAndGlyphs">ser01(seg0001)</text><line x1="122.9" y1="360.5" x2="150.7" y2="360.5" stroke="#1fb41f" stroke-width="0.6"/><text class="ff-n" x="135.2" y="359.6" font-size="2.6" fill="#1fb41f" text-anchor="middle">10 cm</text></g>
<rect x="365.4" y="63.5" width="123.10000000000002" height="60.2" fill="none" stroke="#7a7a7a" stroke-width="0.8"/>
<line x1="433.9" y1="63.5" x2="433.9" y2="123.7" stroke="#bdbdbd" stroke-width="0.6" stroke-dasharray="0.8,0.8"/>
<line x1="474.6" y1="63.5" x2="474.6" y2="123.7" stroke="#bdbdbd" stroke-width="0.6" stroke-dasharray="0.8,0.8"/>
<path d="M369.50,65.40 C370.20,65.98 372.03,67.13 373.70,68.87 C375.37,70.61 377.40,73.07 379.50,75.82 C381.60,78.57 384.25,82.72 386.30,85.38 C388.35,88.04 389.70,89.46 391.80,91.80 C393.90,94.13 396.68,97.48 398.90,99.39 C401.12,101.31 403.02,101.59 405.10,103.29 C407.18,104.99 409.30,107.89 411.40,109.59 C413.50,111.29 415.18,112.48 417.70,113.50 C420.22,114.51 422.93,115.31 426.50,115.68 C430.07,116.05 434.07,115.86 439.10,115.71 C444.13,115.56 450.85,115.35 456.70,114.77 C462.55,114.19 469.60,112.80 474.20,112.24 C478.80,111.67 482.62,111.54 484.30,111.40 L484.30,118.40 L474.20,118.96 L456.70,121.03 L439.10,121.49 L426.50,121.12 L417.70,118.70 L411.40,116.21 L405.10,111.31 L398.90,108.81 L391.80,102.80 L386.30,97.62 L379.50,89.58 L373.70,83.93 L369.50,81.40 Z" fill="#e9e9e9" stroke="#d2d2d2" stroke-width="0.4"/>
<path d="M369.50,65.40V81.40M370.71,66.40V82.13M371.92,67.40V82.86M373.13,68.40V83.58M374.33,69.63V84.55M375.54,71.08V85.72M376.75,72.53V86.90M377.96,73.97V88.08M379.17,75.42V89.26M380.38,77.05V90.62M381.58,78.75V92.04M382.79,80.45V93.47M384.00,82.15V94.90M385.21,83.85V96.33M386.42,85.52V97.73M387.63,86.93V98.87M388.83,88.34V100.01M390.04,89.75V101.15M391.25,91.16V102.29M392.46,92.50V103.36M393.67,93.80V104.38M394.88,95.09V105.40M396.09,96.38V106.43M397.29,97.67V107.45M398.50,98.97V108.47M399.71,99.90V109.13M400.92,100.66V109.62M402.13,101.42V110.11M403.34,102.18V110.60M404.54,102.94V111.09M405.75,103.94V111.82M406.96,105.15V112.76M408.17,106.36V113.70M409.38,107.57V114.64M410.59,108.78V115.58M411.79,109.84V116.36M413.00,110.59V116.84M414.21,111.34V117.32M415.42,112.08V117.80M416.63,112.83V118.28M417.84,113.53V118.74M419.05,113.83V119.07M420.25,114.13V119.40M421.46,114.43V119.73M422.67,114.73V120.07M423.88,115.03V120.40M425.09,115.33V120.73M426.30,115.63V121.06M427.50,115.68V121.15M428.71,115.69V121.18M429.92,115.69V121.22M431.13,115.69V121.25M432.34,115.70V121.29M433.55,115.70V121.33M434.75,115.70V121.36M435.96,115.70V121.40M437.17,115.71V121.43M438.38,115.71V121.47M439.59,115.68V121.48M440.80,115.62V121.44M442.01,115.56V121.41M443.21,115.49V121.38M444.42,115.43V121.35M445.63,115.36V121.32M446.84,115.30V121.29M448.05,115.23V121.25M449.26,115.17V121.22M450.46,115.11V121.19M451.67,115.04V121.16M452.88,114.98V121.13M454.09,114.91V121.10M455.30,114.85V121.06M456.51,114.78V121.03M457.71,114.63V120.91M458.92,114.45V120.76M460.13,114.28V120.62M461.34,114.10V120.48M462.55,113.93V120.34M463.76,113.75V120.19M464.97,113.58V120.05M466.17,113.40V119.91M467.38,113.22V119.77M468.59,113.05V119.62M469.80,112.87V119.48M471.01,112.70V119.34M472.22,112.52V119.20M473.42,112.35V119.05M474.63,112.20V118.94M475.84,112.10V118.87M477.05,112.00V118.80M478.26,111.90V118.74M479.47,111.80V118.67M480.67,111.70V118.60M481.88,111.60V118.53M483.09,111.50V118.47M484.30,111.40V118.40" stroke="#bcbcbc" stroke-width="0.4" fill="none"/>
<path d="M369.50,73.40 C370.20,73.90 372.03,74.85 373.70,76.40 C375.37,77.95 377.40,80.18 379.50,82.70 C381.60,85.22 384.25,89.07 386.30,91.50 C388.35,93.93 389.70,95.20 391.80,97.30 C393.90,99.40 396.68,102.43 398.90,104.10 C401.12,105.77 403.02,105.83 405.10,107.30 C407.18,108.77 409.30,111.43 411.40,112.90 C413.50,114.37 415.18,115.18 417.70,116.10 C420.22,117.02 422.93,117.98 426.50,118.40 C430.07,118.82 434.07,118.68 439.10,118.60 C444.13,118.52 450.85,118.40 456.70,117.90 C462.55,117.40 469.60,116.10 474.20,115.60 C478.80,115.10 482.62,115.02 484.30,114.90" fill="none" stroke="#f40b0b" stroke-width="1.9" stroke-linecap="round"/>
<line x1="367.20" y1="123.7" x2="367.20" y2="125.9" stroke="#7a7a7a" stroke-width="0.7"/>
<text class="ff-n" transform="translate(367.2,134.4) scale(1.2,1.0)" font-size="5.6" text-anchor="middle" fill="#222" stroke="#222" stroke-width="0.2" font-weight="normal" opacity="1">−7</text>
<line x1="391.85" y1="123.7" x2="391.85" y2="125.9" stroke="#7a7a7a" stroke-width="0.7"/>
<text class="ff-n" transform="translate(391.85,134.4) scale(1.2,1.0)" font-size="5.6" text-anchor="middle" fill="#222" stroke="#222" stroke-width="0.2" font-weight="normal" opacity="1">−6</text>
<line x1="416.50" y1="123.7" x2="416.50" y2="125.9" stroke="#7a7a7a" stroke-width="0.7"/>
<text class="ff-n" transform="translate(416.5,134.4) scale(1.2,1.0)" font-size="5.6" text-anchor="middle" fill="#222" stroke="#222" stroke-width="0.2" font-weight="normal" opacity="1">−5</text>
<line x1="441.15" y1="123.7" x2="441.15" y2="125.9" stroke="#7a7a7a" stroke-width="0.7"/>
<text class="ff-n" transform="translate(441.15,134.4) scale(1.2,1.0)" font-size="5.6" text-anchor="middle" fill="#222" stroke="#222" stroke-width="0.2" font-weight="normal" opacity="1">−4</text>
<line x1="465.80" y1="123.7" x2="465.80" y2="125.9" stroke="#7a7a7a" stroke-width="0.7"/>
<text class="ff-n" transform="translate(465.8,134.4) scale(1.2,1.0)" font-size="5.6" text-anchor="middle" fill="#222" stroke="#222" stroke-width="0.2" font-weight="normal" opacity="1">−3</text>
<text class="ff-n" transform="translate(426.5,144.9) scale(1.2,1.0)" font-size="5.7" text-anchor="middle" fill="#222" stroke="#222" stroke-width="0.2" font-weight="normal" opacity="1">Log(λ)</text>
<line x1="361.2" y1="67.3" x2="365.4" y2="67.3" stroke="#7a7a7a" stroke-width="0.7"/>
<text class="ff-n" transform="translate(356.2,67.5) scale(1.3,1.0) rotate(-90)" font-size="5.4" text-anchor="middle" fill="#222" stroke="#222" stroke-width="0.2" font-weight="normal" opacity="1">2.0</text>
<line x1="361.2" y1="86.7" x2="365.4" y2="86.7" stroke="#7a7a7a" stroke-width="0.7"/>
<text class="ff-n" transform="translate(356.2,86.9) scale(1.3,1.0) rotate(-90)" font-size="5.4" text-anchor="middle" fill="#222" stroke="#222" stroke-width="0.2" font-weight="normal" opacity="1">1.5</text>
<line x1="361.2" y1="106.1" x2="365.4" y2="106.1" stroke="#7a7a7a" stroke-width="0.7"/>
<text class="ff-n" transform="translate(356.2,106.3) scale(1.3,1.0) rotate(-90)" font-size="5.4" text-anchor="middle" fill="#222" stroke="#222" stroke-width="0.2" font-weight="normal" opacity="1">1.0</text>
<text class="ff-n" transform="translate(340.8,93.5) scale(1.4,1.0) rotate(-90)" font-size="4.6" text-anchor="middle" fill="#333" stroke="#333" stroke-width="0.05" font-weight="normal" opacity="1">Binomial Deviance</text>
<text class="ff-n" transform="translate(369.5,56.6) scale(1.2,1.0)" font-size="5.6" text-anchor="middle" fill="#222" stroke="#222" stroke-width="0.2" font-weight="normal" opacity="1">93</text>
<text class="ff-n" transform="translate(382,56.6) scale(1.2,1.0)" font-size="5.6" text-anchor="middle" fill="#222" stroke="#222" stroke-width="0.2" font-weight="normal" opacity="1">89</text>
<text class="ff-n" transform="translate(394.6,56.6) scale(1.2,1.0)" font-size="5.6" text-anchor="middle" fill="#222" stroke="#222" stroke-width="0.2" font-weight="normal" opacity="1">76</text>
<text class="ff-n" transform="translate(406.9,56.6) scale(1.2,1.0)" font-size="5.6" text-anchor="middle" fill="#222" stroke="#222" stroke-width="0.2" font-weight="normal" opacity="1">61</text>
<text class="ff-n" transform="translate(419.7,56.6) scale(1.2,1.0)" font-size="5.6" text-anchor="middle" fill="#222" stroke="#222" stroke-width="0.2" font-weight="normal" opacity="1">41</text>
<text class="ff-n" transform="translate(432.5,56.6) scale(1.2,1.0)" font-size="5.6" text-anchor="middle" fill="#222" stroke="#222" stroke-width="0.2" font-weight="normal" opacity="1">25</text>
<text class="ff-n" transform="translate(445.6,56.6) scale(1.2,1.0)" font-size="5.6" text-anchor="middle" fill="#222" stroke="#222" stroke-width="0.2" font-weight="normal" opacity="1">13</text>
<text class="ff-n" transform="translate(456.7,56.6) scale(1.2,1.0)" font-size="5.6" text-anchor="middle" fill="#222" stroke="#222" stroke-width="0.2" font-weight="normal" opacity="1">8</text>
<text class="ff-n" transform="translate(466,56.6) scale(1.2,1.0)" font-size="5.6" text-anchor="middle" fill="#222" stroke="#222" stroke-width="0.2" font-weight="normal" opacity="1">4</text>
<text class="ff-n" transform="translate(475,56.6) scale(1.2,1.0)" font-size="5.6" text-anchor="middle" fill="#222" stroke="#222" stroke-width="0.2" font-weight="normal" opacity="1">2</text>
<g><polyline points="364.8,196.29 367.95,197.2 371.1,197.91 374.24,198.62 377.39,198.79 380.54,199.5 383.69,199.96 386.83,200.8 389.98,201.24 393.13,201.51 396.28,202.19 399.43,202.55 402.57,202.84 405.72,203.12 408.87,203.3 478.4,203.3" fill="none" stroke="#000000" stroke-width="0.45" opacity="0.72" stroke-linejoin="miter" /><polyline points="364.8,200.38 366.88,200.79 368.96,200.96 371.04,201.31 373.13,201.35 375.21,201.57 377.29,201.7 379.37,201.93 381.45,202.06 383.53,202.22 385.61,202.53 387.7,202.7 389.78,202.88 391.86,203.07 393.94,203.3" fill="none" stroke="#DF536B" stroke-width="0.45" opacity="0.72" stroke-linejoin="miter" /><polyline points="364.8,208.6 369.08,208.1 373.37,207.12 377.65,206.9 381.94,206.94 386.22,206.32 390.51,206.18 394.79,205.56 399.08,205.09 403.36,204.92 407.65,204.6 411.93,204.16 416.22,203.83 420.5,203.56 424.79,203.3" fill="none" stroke="#61D04F" stroke-width="0.45" opacity="0.72" stroke-linejoin="miter" /><polyline points="364.8,205.77 366.58,205.38 368.36,205.42 370.15,205.26 371.93,205.05 373.71,205.1 375.49,204.8 377.27,204.79 379.06,204.54 380.84,204.45 382.62,204.26 384.4,204.1 386.19,203.95 387.97,203.7 389.75,203.3" fill="none" stroke="#2297E6" stroke-width="0.45" opacity="0.72" stroke-linejoin="miter" /><polyline points="364.8,198.12 366.58,198.82 368.36,199.79 370.14,200.05 371.92,200.56 373.7,200.93 375.48,201.39 377.26,202.0 379.04,202.21 380.82,202.62 382.6,202.81 384.38,203.02 386.16,203.23 387.94,203.26 389.72,203.3" fill="none" stroke="#28E2E5" stroke-width="0.45" opacity="0.72" stroke-linejoin="miter" /><polyline points="364.8,206.98 369.29,206.5 373.79,206.46 378.28,206.16 382.77,205.35 387.26,205.38 391.76,205.0 396.25,204.56 400.74,204.22 405.23,203.89 409.73,203.68 414.22,203.68 418.71,203.42 423.2,203.36 427.7,203.3" fill="none" stroke="#CD0BBC" stroke-width="0.45" opacity="0.72" stroke-linejoin="miter" /><polyline points="364.8,205.77 367.01,205.44 369.22,205.09 371.43,205.13 373.64,204.68 375.85,204.44 378.06,204.34 380.27,204.21 382.48,203.96 384.69,203.83 386.9,203.72 389.11,203.61 391.32,203.45 393.53,203.36 395.73,203.3" fill="none" stroke="#2297E6" stroke-width="0.45" opacity="0.72" stroke-linejoin="miter" /><polyline points="364.8,195.61 370.72,195.99 376.64,196.97 382.56,197.2 388.48,197.78 394.4,198.49 400.31,198.98 406.23,199.52 412.15,200.23 418.07,200.74 423.99,201.21 429.91,201.91 435.83,202.38 441.75,202.82 447.67,203.3" fill="none" stroke="#9E9E9E" stroke-width="0.45" opacity="0.72" stroke-linejoin="miter" /><polyline points="364.8,208.21 366.5,206.97 368.21,206.8 369.91,206.01 371.61,205.95 373.32,205.37 375.02,204.82 376.73,204.52 378.43,204.23 380.13,203.97 381.84,203.78 383.54,203.61 385.24,203.44 386.95,203.37 388.65,203.3" fill="none" stroke="#000000" stroke-width="0.45" opacity="0.72" stroke-linejoin="miter" /><polyline points="364.8,199.2 367.28,200.07 369.77,199.7 372.25,200.32 374.74,200.44 377.22,200.56 379.71,200.96 382.19,200.97 384.67,201.14 387.16,201.54 389.64,201.77 392.13,202.1 394.61,202.35 397.1,202.75 399.58,203.3" fill="none" stroke="#DF536B" stroke-width="0.45" opacity="0.72" stroke-linejoin="miter" /><polyline points="364.8,202.36 368.37,202.37 371.94,202.48 375.52,202.59 379.09,202.79 382.66,202.78 386.23,202.86 389.8,202.97 393.37,203.09 396.95,203.09 400.52,203.15 404.09,203.24 407.66,203.27 411.23,203.28 414.81,203.3" fill="none" stroke="#61D04F" stroke-width="0.45" opacity="0.72" stroke-linejoin="miter" /><polyline points="364.8,211.44 367.3,210.11 369.8,208.98 372.3,208.16 374.81,207.9 377.31,206.74 379.81,206.41 382.31,205.73 384.81,205.09 387.31,204.74 389.82,204.12 392.32,203.81 394.82,203.58 397.32,203.36 399.82,203.3" fill="none" stroke="#2297E6" stroke-width="0.45" opacity="0.72" stroke-linejoin="miter" /><polyline points="364.8,207.86 368.36,207.51 371.92,206.87 375.47,206.15 379.03,205.93 382.59,205.41 386.15,204.99 389.7,204.87 393.26,204.63 396.82,204.18 400.38,203.95 403.94,203.73 407.49,203.58 411.05,203.39 414.61,203.3" fill="none" stroke="#28E2E5" stroke-width="0.45" opacity="0.72" stroke-linejoin="miter" /><polyline points="364.8,204.72 369.29,204.6 373.77,204.39 378.26,204.39 382.74,204.35 387.23,204.33 391.71,204.16 396.2,204.11 400.68,204.06 405.17,203.96 409.65,203.87 414.14,203.73 418.62,203.63 423.11,203.49 427.59,203.3" fill="none" stroke="#CD0BBC" stroke-width="0.45" opacity="0.72" stroke-linejoin="miter" /><polyline points="364.8,198.23 366.54,198.56 368.28,198.46 370.01,199.16 371.75,199.13 373.49,199.8 375.23,199.98 376.96,200.52 378.7,200.94 380.44,201.29 382.18,201.84 383.92,202.09 385.65,202.57 387.39,202.91 389.13,203.3" fill="none" stroke="#F5C710" stroke-width="0.45" opacity="0.72" stroke-linejoin="miter" /><polyline points="364.8,196.62 371.72,197.05 378.65,197.95 385.57,198.33 392.49,198.96 399.41,199.55 406.34,199.93 413.26,200.5 420.18,201.09 427.1,201.48 434.03,201.84 440.95,202.34 447.87,202.77 454.8,203.05 461.72,203.3" fill="none" stroke="#9E9E9E" stroke-width="0.45" opacity="0.72" stroke-linejoin="miter" /><polyline points="364.8,197.47 368.07,197.81 371.34,198.01 374.61,198.36 377.89,199.0 381.16,199.5 384.43,199.68 387.7,200.46 390.97,200.72 394.24,201.26 397.52,201.45 400.79,201.89 404.06,202.35 407.33,202.86 410.6,203.3" fill="none" stroke="#000000" stroke-width="0.45" opacity="0.72" stroke-linejoin="miter" /><polyline points="364.8,209.17 366.67,208.75 368.54,207.98 370.41,207.43 372.28,206.92 374.15,206.72 376.01,206.42 377.88,205.66 379.75,205.49 381.62,204.86 383.49,204.54 385.36,204.19 387.23,203.9 389.1,203.55 390.97,203.3" fill="none" stroke="#DF536B" stroke-width="0.45" opacity="0.72" stroke-linejoin="miter" /><polyline points="364.8,203.11 367.08,203.11 369.37,203.12 371.65,203.14 373.94,203.15 376.22,203.16 378.5,203.17 380.79,203.19 383.07,203.21 385.36,203.22 387.64,203.24 389.92,203.25 392.21,203.26 394.49,203.28 396.78,203.3" fill="none" stroke="#61D04F" stroke-width="0.45" opacity="0.72" stroke-linejoin="miter" /><polyline points="364.8,214.54 369.34,213.74 373.88,212.51 378.42,211.9 382.96,211.48 387.5,210.51 392.04,209.73 396.59,209.31 401.13,208.4 405.67,207.75 410.21,206.8 414.75,206.06 419.29,205.26 423.83,204.33 428.37,203.3" fill="none" stroke="#2297E6" stroke-width="0.45" opacity="0.72" stroke-linejoin="miter" /><polyline points="364.8,220.02 367.94,218.3 371.08,216.18 374.22,214.43 377.36,212.88 380.5,211.36 383.64,210.21 386.78,208.88 389.92,207.69 393.06,206.47 396.21,205.52 399.35,204.7 402.49,204.1 405.63,203.58 408.77,203.3" fill="none" stroke="#28E2E5" stroke-width="0.45" opacity="0.72" stroke-linejoin="miter" /><polyline points="364.8,201.62 370.69,201.85 376.58,202.03 382.47,202.17 388.36,202.37 394.25,202.39 400.14,202.67 406.02,202.82 411.91,202.83 417.8,202.98 423.69,203.1 429.58,203.15 435.47,203.21 441.36,203.27 447.25,203.3 478.4,203.3" fill="none" stroke="#CD0BBC" stroke-width="0.45" opacity="0.72" stroke-linejoin="miter" /><polyline points="364.8,210.93 368.21,210.0 371.61,209.35 375.02,209.22 378.42,208.33 381.83,208.2 385.23,207.27 388.64,206.83 392.04,206.38 395.45,205.8 398.85,205.29 402.26,204.73 405.67,204.24 409.07,203.75 412.48,203.3" fill="none" stroke="#F5C710" stroke-width="0.45" opacity="0.72" stroke-linejoin="miter" /><polyline points="364.8,211.12 369.72,210.1 374.63,209.54 379.55,209.16 384.47,208.52 389.38,207.97 394.3,207.68 399.22,207.14 404.13,206.52 409.05,205.98 413.97,205.53 418.89,205.03 423.8,204.42 428.72,203.88 433.64,203.3" fill="none" stroke="#9E9E9E" stroke-width="0.45" opacity="0.72" stroke-linejoin="miter" /><polyline points="364.8,196.78 368.42,197.09 372.04,197.44 375.65,197.87 379.27,198.11 382.89,198.49 386.51,198.97 390.13,199.01 393.75,199.52 397.36,199.98 400.98,200.38 404.6,200.87 408.22,201.44 411.84,202.04 415.46,203.3" fill="none" stroke="#000000" stroke-width="0.45" opacity="0.72" stroke-linejoin="miter" /><polyline points="364.8,219.0 368.25,217.55 371.69,216.36 375.14,215.06 378.58,213.95 382.03,212.7 385.47,211.41 388.92,210.51 392.36,209.24 395.81,208.13 399.26,206.87 402.7,205.98 406.15,204.96 409.59,204.05 413.04,203.3" fill="none" stroke="#DF536B" stroke-width="0.45" opacity="0.72" stroke-linejoin="miter" /><polyline points="364.8,202.09 368.67,202.04 372.54,202.25 376.41,202.25 380.28,202.44 384.15,202.41 388.02,202.51 391.89,202.71 395.76,202.8 399.63,202.82 403.5,202.97 407.37,203.02 411.24,203.13 415.11,203.2 418.98,203.3" fill="none" stroke="#61D04F" stroke-width="0.45" opacity="0.72" stroke-linejoin="miter" /><polyline points="364.8,210.43 367.73,209.55 370.66,209.07 373.59,208.28 376.52,207.83 379.45,207.06 382.38,206.68 385.31,206.07 388.24,205.45 391.17,204.81 394.1,204.35 397.03,204.11 399.96,203.74 402.88,203.46 405.81,203.3" fill="none" stroke="#2297E6" stroke-width="0.45" opacity="0.72" stroke-linejoin="miter" /><polyline points="364.8,195.89 366.88,196.33 368.96,196.8 371.04,196.77 373.12,197.33 375.2,198.0 377.28,198.61 379.36,199.24 381.44,199.6 383.52,200.3 385.6,200.75 387.68,201.35 389.76,202.03 391.84,202.62 393.92,203.3" fill="none" stroke="#28E2E5" stroke-width="0.45" opacity="0.72" stroke-linejoin="miter" /><polyline points="364.8,206.46 367.4,205.7 369.99,205.43 372.59,205.47 375.19,205.1 377.78,204.88 380.38,204.43 382.98,204.27 385.57,204.02 388.17,203.95 390.77,203.69 393.36,203.58 395.96,203.48 398.56,203.34 401.15,203.3" fill="none" stroke="#CD0BBC" stroke-width="0.45" opacity="0.72" stroke-linejoin="miter" /><polyline points="364.8,202.33 369.79,202.36 374.77,202.45 379.76,202.44 384.74,202.56 389.73,202.53 394.71,202.61 399.7,202.71 404.68,202.72 409.67,202.81 414.65,202.91 419.64,202.98 424.62,203.05 429.61,203.14 434.59,203.3" fill="none" stroke="#F5C710" stroke-width="0.45" opacity="0.72" stroke-linejoin="miter" /><polyline points="364.8,204.45 368.62,204.34 372.45,204.24 376.27,204.06 380.1,204.02 383.92,203.86 387.74,203.78 391.57,203.71 395.39,203.68 399.22,203.6 403.04,203.48 406.86,203.43 410.69,203.37 414.51,203.33 418.34,203.3" fill="none" stroke="#9E9E9E" stroke-width="0.45" opacity="0.72" stroke-linejoin="miter" /><polyline points="364.8,197.78 369.05,198.72 373.3,199.28 377.55,199.35 381.8,199.67 386.05,200.39 390.3,200.82 394.55,201.24 398.81,201.76 403.06,202.01 407.31,202.38 411.56,202.55 415.81,202.91 420.06,203.16 424.31,203.3" fill="none" stroke="#000000" stroke-width="0.45" opacity="0.72" stroke-linejoin="miter" /><polyline points="364.8,207.93 366.73,207.12 368.65,206.65 370.58,206.55 372.5,205.97 374.43,205.69 376.36,205.12 378.28,204.75 380.21,204.65 382.13,204.24 384.06,203.93 385.98,203.71 387.91,203.54 389.84,203.38 391.76,203.3" fill="none" stroke="#DF536B" stroke-width="0.45" opacity="0.72" stroke-linejoin="miter" /><polyline points="364.8,212.79 369.04,211.41 373.28,210.28 377.53,209.41 381.77,208.53 386.01,207.46 390.25,206.68 394.49,205.86 398.74,205.44 402.98,204.94 407.22,204.28 411.46,203.85 415.71,203.57 419.95,203.38 424.19,203.3" fill="none" stroke="#61D04F" stroke-width="0.45" opacity="0.72" stroke-linejoin="miter" /><polyline points="364.8,201.19 366.63,201.16 368.46,201.35 370.28,201.71 372.11,201.95 373.94,202.24 375.77,202.19 377.6,202.39 379.43,202.58 381.25,202.75 383.08,202.9 384.91,203.08 386.74,203.17 388.57,203.24 390.4,203.3" fill="none" stroke="#2297E6" stroke-width="0.45" opacity="0.72" stroke-linejoin="miter" /><polyline points="364.8,203.42 368.99,203.43 373.17,203.42 377.36,203.39 381.54,203.39 385.73,203.38 389.92,203.37 394.1,203.35 398.29,203.34 402.47,203.34 406.66,203.33 410.85,203.32 415.03,203.31 419.22,203.31 423.41,203.3" fill="none" stroke="#28E2E5" stroke-width="0.45" opacity="0.72" stroke-linejoin="miter" /><polyline points="364.8,193.74 371.73,194.67 378.67,195.77 385.6,196.22 392.54,197.18 399.47,197.58 406.4,198.67 413.34,199.31 420.27,199.75 427.2,200.61 434.14,201.21 441.07,201.8 448.01,202.32 454.94,202.89 461.87,203.3" fill="none" stroke="#CD0BBC" stroke-width="0.45" opacity="0.72" stroke-linejoin="miter" /><polyline points="364.8,200.55 367.42,201.01 370.05,201.16 372.67,201.15 375.29,201.67 377.92,201.83 380.54,202.04 383.17,202.12 385.79,202.38 388.41,202.59 391.04,202.85 393.66,203.01 396.28,203.11 398.91,203.21 401.53,203.3" fill="none" stroke="#F5C710" stroke-width="0.45" opacity="0.72" stroke-linejoin="miter" /><polyline points="364.8,220.37 367.6,218.54 370.41,216.6 373.21,215.15 376.02,213.78 378.82,212.68 381.62,211.33 384.43,210.06 387.23,208.83 390.04,207.46 392.84,206.47 395.64,205.53 398.45,204.59 401.25,203.81 404.06,203.3" fill="none" stroke="#9E9E9E" stroke-width="0.45" opacity="0.72" stroke-linejoin="miter" /><polyline points="364.8,194.09 368.35,195.41 371.9,196.37 375.45,197.27 379.0,197.96 382.55,198.93 386.1,199.84 389.65,200.48 393.2,201.22 396.75,201.79 400.3,202.33 403.85,202.75 407.4,203.02 410.95,203.22 414.51,203.3" fill="none" stroke="#000000" stroke-width="0.45" opacity="0.72" stroke-linejoin="miter" /><polyline points="364.8,201.98 366.37,201.94 367.93,202.05 369.5,202.38 371.06,202.37 372.63,202.54 374.19,202.57 375.76,202.75 377.32,202.85 378.89,202.87 380.45,202.97 382.02,203.06 383.58,203.18 385.15,203.24 386.71,203.3" fill="none" stroke="#DF536B" stroke-width="0.45" opacity="0.72" stroke-linejoin="miter" /><polyline points="364.8,212.81 368.46,212.1 372.12,211.17 375.78,210.47 379.44,209.27 383.1,208.59 386.76,207.85 390.42,207.19 394.07,206.45 397.73,205.69 401.39,204.95 405.05,204.51 408.71,204.01 412.37,203.55 416.03,203.3" fill="none" stroke="#61D04F" stroke-width="0.45" opacity="0.72" stroke-linejoin="miter" /><polyline points="364.8,201.89 369.56,202.05 374.31,202.02 379.07,202.32 383.82,202.37 388.58,202.4 393.33,202.51 398.09,202.65 402.84,202.81 407.6,202.92 412.36,202.99 417.11,203.12 421.87,203.17 426.62,203.25 431.38,203.3" fill="none" stroke="#2297E6" stroke-width="0.45" opacity="0.72" stroke-linejoin="miter" /><polyline points="364.8,206.87 368.12,206.68 371.45,206.33 374.77,205.98 378.1,205.52 381.42,205.61 384.74,205.17 388.07,205.15 391.39,204.71 394.72,204.57 398.04,204.37 401.36,204.03 404.69,203.83 408.01,203.55 411.34,203.3" fill="none" stroke="#28E2E5" stroke-width="0.45" opacity="0.72" stroke-linejoin="miter" /><polyline points="364.8,219.95 367.28,217.97 369.75,216.48 372.23,215.03 374.7,213.05 377.18,211.73 379.65,210.5 382.13,209.09 384.61,207.99 387.08,206.93 389.56,205.83 392.03,205.01 394.51,204.21 396.98,203.64 399.46,203.3" fill="none" stroke="#CD0BBC" stroke-width="0.45" opacity="0.72" stroke-linejoin="miter" /><polyline points="364.8,197.2 366.59,197.67 368.37,197.88 370.16,198.26 371.95,198.67 373.74,199.46 375.52,199.71 377.31,200.36 379.1,200.73 380.88,201.21 382.67,201.49 384.46,201.96 386.24,202.52 388.03,202.89 389.82,203.3" fill="none" stroke="#2297E6" stroke-width="0.45" opacity="0.72" stroke-linejoin="miter" /><polyline points="364.8,201.0 370.3,201.2 375.8,201.4 381.29,201.78 386.79,202.01 392.29,202.19 397.79,202.2 403.28,202.52 408.78,202.56 414.28,202.82 419.78,202.97 425.28,203.04 430.77,203.13 436.27,203.26 441.77,203.3" fill="none" stroke="#9E9E9E" stroke-width="0.45" opacity="0.72" stroke-linejoin="miter" /><polyline points="364.8,219.11 371.32,217.33 377.85,215.53 384.37,213.57 390.89,212.27 397.41,210.66 403.94,209.16 410.46,207.92 416.98,206.97 423.5,205.87 430.03,205.2 436.55,204.42 443.07,203.84 449.59,203.45 456.12,203.3 478.4,203.3" fill="none" stroke="#000000" stroke-width="0.45" opacity="0.72" stroke-linejoin="miter" /><polyline points="364.8,199.86 366.72,200.27 368.63,200.69 370.55,200.93 372.47,201.25 374.39,201.47 376.3,201.99 378.22,202.24 380.14,202.49 382.05,202.54 383.97,202.87 385.89,203.0 387.81,203.08 389.72,203.23 391.64,203.3" fill="none" stroke="#DF536B" stroke-width="0.45" opacity="0.72" stroke-linejoin="miter" /><polyline points="364.8,204.58 368.59,204.39 372.37,204.43 376.16,204.32 379.94,204.14 383.73,203.98 387.52,203.95 391.3,203.87 395.09,203.69 398.87,203.62 402.66,203.57 406.44,203.46 410.23,203.41 414.02,203.34 417.8,203.3" fill="none" stroke="#61D04F" stroke-width="0.45" opacity="0.72" stroke-linejoin="miter" /><polyline points="364.8,195.17 366.85,195.79 368.9,196.03 370.95,196.76 373.0,197.43 375.05,197.81 377.1,198.2 379.15,198.81 381.2,199.61 383.25,200.1 385.31,200.59 387.36,201.28 389.41,201.84 391.46,202.57 393.51,203.3" fill="none" stroke="#2297E6" stroke-width="0.45" opacity="0.72" stroke-linejoin="miter" /><polyline points="364.8,207.13 367.09,206.82 369.37,206.7 371.66,205.94 373.94,205.56 376.23,205.33 378.51,204.81 380.8,204.79 383.08,204.5 385.37,203.93 387.65,203.82 389.94,203.67 392.22,203.46 394.51,203.38 396.79,203.3" fill="none" stroke="#28E2E5" stroke-width="0.45" opacity="0.72" stroke-linejoin="miter" /><polyline points="364.8,204.59 367.45,204.4 370.1,204.27 372.75,204.22 375.4,204.08 378.05,203.94 380.7,203.9 383.35,203.7 386.0,203.68 388.65,203.54 391.3,203.5 393.95,203.42 396.6,203.37 399.25,203.33 401.9,203.3" fill="none" stroke="#CD0BBC" stroke-width="0.45" opacity="0.72" stroke-linejoin="miter" /><polyline points="364.8,204.09 366.36,203.99 367.92,203.96 369.48,203.81 371.05,203.74 372.61,203.67 374.17,203.65 375.73,203.59 377.29,203.53 378.85,203.47 380.41,203.45 381.98,203.38 383.54,203.36 385.1,203.32 386.66,203.3" fill="none" stroke="#2297E6" stroke-width="0.45" opacity="0.72" stroke-linejoin="miter" /><polyline points="364.8,207.3 367.29,207.34 369.77,207.07 372.26,206.69 374.75,206.68 377.23,206.19 379.72,206.32 382.21,205.8 384.7,205.6 387.18,205.32 389.67,205.17 392.16,204.87 394.64,204.49 397.13,204.01 399.62,203.3" fill="none" stroke="#9E9E9E" stroke-width="0.45" opacity="0.72" stroke-linejoin="miter" /><polyline points="364.8,204.16 368.8,204.09 372.8,204.03 376.8,203.82 380.79,203.76 384.79,203.75 388.79,203.58 392.79,203.54 396.79,203.47 400.79,203.43 404.79,203.36 408.78,203.33 412.78,203.34 416.78,203.31 420.78,203.3" fill="none" stroke="#000000" stroke-width="0.45" opacity="0.72" stroke-linejoin="miter" /><polyline points="364.8,203.14 367.05,203.14 369.31,203.15 371.56,203.18 373.82,203.19 376.07,203.19 378.33,203.21 380.58,203.23 382.83,203.23 385.09,203.25 387.34,203.26 389.6,203.28 391.85,203.28 394.1,203.29 396.36,203.3" fill="none" stroke="#DF536B" stroke-width="0.45" opacity="0.72" stroke-linejoin="miter" /><polyline points="364.8,209.81 367.65,209.38 370.5,208.73 373.34,208.26 376.19,207.96 379.04,207.61 381.89,207.03 384.73,206.61 387.58,206.22 390.43,205.64 393.28,205.28 396.12,204.83 398.97,204.34 401.82,203.83 404.67,203.3" fill="none" stroke="#61D04F" stroke-width="0.45" opacity="0.72" stroke-linejoin="miter" /><polyline points="364.8,194.62 368.15,195.41 371.5,196.23 374.84,197.48 378.19,198.26 381.54,198.65 384.89,199.42 388.23,200.33 391.58,200.68 394.93,201.53 398.28,201.99 401.62,202.38 404.97,202.83 408.32,203.11 411.67,203.3" fill="none" stroke="#2297E6" stroke-width="0.45" opacity="0.72" stroke-linejoin="miter" /><polyline points="364.8,209.74 366.38,208.95 367.96,208.8 369.54,208.5 371.12,208.19 372.7,207.59 374.28,207.47 375.86,206.87 377.44,206.62 379.02,206.15 380.6,205.57 382.18,205.12 383.76,204.63 385.34,204.09 386.92,203.3" fill="none" stroke="#28E2E5" stroke-width="0.45" opacity="0.72" stroke-linejoin="miter" /><polyline points="364.8,198.96 368.3,199.13 371.79,199.2 375.29,199.17 378.78,199.9 382.28,200.16 385.77,200.39 389.27,200.44 392.76,201.04 396.26,201.25 399.75,201.53 403.25,201.85 406.74,202.32 410.24,202.71 413.73,203.3" fill="none" stroke="#CD0BBC" stroke-width="0.45" opacity="0.72" stroke-linejoin="miter" /><polyline points="364.8,199.38 370.27,200.28 375.74,200.17 381.21,200.88 386.68,200.99 392.15,201.5 397.62,201.72 403.1,202.09 408.57,202.4 414.04,202.6 419.51,202.74 424.98,202.9 430.45,203.14 435.92,203.22 441.39,203.3" fill="none" stroke="#F5C710" stroke-width="0.45" opacity="0.72" stroke-linejoin="miter" /><polyline points="364.8,203.46 371.75,203.46 378.7,203.44 385.65,203.44 392.6,203.43 399.55,203.4 406.5,203.39 413.45,203.38 420.41,203.37 427.36,203.36 434.31,203.35 441.26,203.34 448.21,203.33 455.16,203.31 462.11,203.3" fill="none" stroke="#9E9E9E" stroke-width="0.45" opacity="0.72" stroke-linejoin="miter" /><polyline points="364.8,202.72 366.4,202.71 368.01,202.77 369.61,202.86 371.21,202.91 372.81,203.0 374.42,203.01 376.02,203.08 377.62,203.11 379.23,203.14 380.83,203.18 382.43,203.22 384.03,203.25 385.64,203.28 387.24,203.3" fill="none" stroke="#000000" stroke-width="0.45" opacity="0.72" stroke-linejoin="miter" /><polyline points="364.8,200.93 369.35,201.44 373.91,201.81 378.46,202.02 383.01,202.02 387.57,202.45 392.12,202.64 396.67,202.75 401.23,202.91 405.78,202.95 410.33,203.05 414.88,203.14 419.44,203.26 423.99,203.28 428.54,203.3" fill="none" stroke="#DF536B" stroke-width="0.45" opacity="0.72" stroke-linejoin="miter" /><polyline points="364.8,204.8 368.95,204.68 373.09,204.66 377.24,204.51 381.38,204.43 385.53,204.26 389.67,204.22 393.82,204.14 397.96,204.0 402.11,203.9 406.25,203.79 410.4,203.66 414.54,203.54 418.69,203.41 422.83,203.3" fill="none" stroke="#61D04F" stroke-width="0.45" opacity="0.72" stroke-linejoin="miter" /><polyline points="364.8,198.13 371.65,198.57 378.5,199.02 385.35,199.0 392.2,199.45 399.05,199.47 405.9,199.98 412.75,200.1 419.6,200.42 426.45,200.88 433.3,201.23 440.15,201.58 447.0,201.96 453.85,202.45 460.7,203.3" fill="none" stroke="#2297E6" stroke-width="0.45" opacity="0.72" stroke-linejoin="miter" /><polyline points="364.8,198.3 368.49,198.49 372.18,199.22 375.87,199.75 379.56,200.06 383.25,199.92 386.94,200.52 390.63,200.72 394.32,201.13 398.01,201.39 401.7,201.86 405.39,202.2 409.08,202.42 412.77,202.87 416.46,203.3" fill="none" stroke="#28E2E5" stroke-width="0.45" opacity="0.72" stroke-linejoin="miter" /><polyline points="364.8,205.66 369.58,205.39 374.36,205.49 379.14,205.33 383.91,205.15 388.69,204.99 393.47,204.98 398.25,204.83 403.03,204.54 407.81,204.4 412.59,204.26 417.36,204.09 422.14,203.89 426.92,203.63 431.7,203.3" fill="none" stroke="#CD0BBC" stroke-width="0.45" opacity="0.72" stroke-linejoin="miter" /><polyline points="364.8,203.94 370.19,203.91 375.59,203.81 380.98,203.82 386.37,203.72 391.76,203.71 397.16,203.63 402.55,203.57 407.94,203.54 413.33,203.49 418.73,203.44 424.12,203.39 429.51,203.35 434.9,203.33 440.3,203.3" fill="none" stroke="#F5C710" stroke-width="0.45" opacity="0.72" stroke-linejoin="miter" /><polyline points="364.8,204.76 369.59,204.57 374.38,204.47 379.17,204.47 383.96,204.3 388.75,204.15 393.54,204.15 398.33,204.07 403.12,203.97 407.91,203.84 412.7,203.79 417.5,203.68 422.29,203.57 427.08,203.44 431.87,203.3" fill="none" stroke="#9E9E9E" stroke-width="0.45" opacity="0.72" stroke-linejoin="miter" /><polyline points="364.8,205.32 366.49,205.01 368.19,204.93 369.88,204.64 371.57,204.56 373.27,204.61 374.96,204.25 376.65,204.22 378.35,204.13 380.04,203.98 381.73,203.83 383.43,203.66 385.12,203.56 386.82,203.42 388.51,203.3" fill="none" stroke="#000000" stroke-width="0.45" opacity="0.72" stroke-linejoin="miter" /><polyline points="364.8,203.61 370.55,203.62 376.3,203.53 382.04,203.53 387.79,203.48 393.54,203.46 399.29,203.43 405.04,203.42 410.79,203.4 416.53,203.37 422.28,203.35 428.03,203.33 433.78,203.31 439.53,203.31 445.27,203.3" fill="none" stroke="#DF536B" stroke-width="0.45" opacity="0.72" stroke-linejoin="miter" /><polyline points="364.8,203.18 368.08,203.19 371.35,203.2 374.63,203.22 377.91,203.23 381.18,203.23 384.46,203.25 387.74,203.26 391.01,203.27 394.29,203.28 397.57,203.28 400.84,203.29 404.12,203.29 407.4,203.3 410.67,203.3" fill="none" stroke="#61D04F" stroke-width="0.45" opacity="0.72" stroke-linejoin="miter" /><polyline points="364.8,215.34 370.12,213.98 375.44,213.12 380.75,212.45 386.07,211.67 391.39,210.41 396.71,209.46 402.02,208.66 407.34,208.02 412.66,206.91 417.98,206.21 423.29,205.36 428.61,204.63 433.93,203.88 439.25,203.3" fill="none" stroke="#2297E6" stroke-width="0.45" opacity="0.72" stroke-linejoin="miter" /><polyline points="364.8,210.48 366.63,209.47 368.45,208.83 370.28,207.93 372.1,207.22 373.93,206.49 375.76,206.08 377.58,205.51 379.41,204.99 381.23,204.4 383.06,204.18 384.89,203.81 386.71,203.57 388.54,203.39 390.36,203.3" fill="none" stroke="#28E2E5" stroke-width="0.45" opacity="0.72" stroke-linejoin="miter" /><polyline points="364.8,201.2 371.34,201.46 377.88,201.38 384.42,201.7 390.96,201.61 397.5,202.03 404.04,202.04 410.58,202.15 417.12,202.43 423.66,202.54 430.2,202.73 436.74,202.86 443.27,203.01 449.81,203.15 456.35,203.3" fill="none" stroke="#CD0BBC" stroke-width="0.45" opacity="0.72" stroke-linejoin="miter" /><polyline points="364.8,189.7 369.1,190.74 373.4,191.58 377.7,193.09 382.0,193.99 386.3,195.14 390.6,196.37 394.9,197.13 399.2,198.2 403.5,199.3 407.8,200.11 412.1,201.12 416.4,201.99 420.7,202.71 425.0,203.3" fill="none" stroke="#28E2E5" stroke-width="0.6" opacity="0.72" stroke-linejoin="miter" /><polyline points="364.8,190.48 369.46,191.52 374.11,192.45 378.77,193.75 383.43,194.72 388.09,195.41 392.74,196.55 397.4,197.44 402.06,198.4 406.71,199.45 411.37,200.47 416.03,201.29 420.69,201.99 425.34,202.73 430.0,203.3" fill="none" stroke="#61D04F" stroke-width="0.6" opacity="0.72" stroke-linejoin="miter" /><polyline points="364.8,188.89 368.6,190.33 372.4,190.96 376.2,192.75 380.0,193.45 383.8,194.83 387.6,196.06 391.4,197.08 395.2,197.95 399.0,199.13 402.8,200.06 406.6,200.93 410.4,201.88 414.2,202.68 418.0,203.3" fill="none" stroke="#2297E6" stroke-width="0.6" opacity="0.72" stroke-linejoin="miter" /><polyline points="364.8,191.58 369.89,192.65 374.97,193.27 380.06,194.23 385.14,195.53 390.23,196.34 395.31,197.1 400.4,198.01 405.49,199.18 410.57,199.9 415.66,200.64 420.74,201.39 425.83,202.21 430.91,202.81 436.0,203.3" fill="none" stroke="#28E2E5" stroke-width="0.6" opacity="0.72" stroke-linejoin="miter" /><polyline points="364.8,193.35 368.74,194.27 372.69,194.91 376.63,196.05 380.57,196.71 384.51,197.7 388.46,198.25 392.4,199.02 396.34,199.76 400.29,200.58 404.23,201.09 408.17,201.79 412.11,202.32 416.06,202.89 420.0,203.3" fill="none" stroke="#000000" stroke-width="0.6" opacity="0.72" stroke-linejoin="miter" /><polyline points="364.8,221.23 367.67,220.25 370.54,218.7 373.41,217.15 376.29,216.05 379.16,214.38 382.03,213.19 384.9,211.78 387.77,210.41 390.64,209.01 393.51,207.84 396.39,206.59 399.26,205.42 402.13,204.32 405.0,203.3" fill="none" stroke="#2297E6" stroke-width="0.6" opacity="0.72" stroke-linejoin="miter" /><polyline points="364.8,219.64 368.17,218.04 371.54,216.91 374.91,215.49 378.29,214.71 381.66,213.14 385.03,212.02 388.4,210.79 391.77,209.79 395.14,208.62 398.51,207.4 401.89,206.28 405.26,205.16 408.63,204.21 412.0,203.3" fill="none" stroke="#28E2E5" stroke-width="0.6" opacity="0.72" stroke-linejoin="miter" /><polyline points="364.8,218.1 367.31,217.2 369.83,215.99 372.34,214.63 374.86,213.82 377.37,212.7 379.89,211.13 382.4,210.3 384.91,209.16 387.43,208.06 389.94,207.05 392.46,206.01 394.97,205.07 397.49,204.12 400.0,203.3" fill="none" stroke="#CD0BBC" stroke-width="0.6" opacity="0.72" stroke-linejoin="miter" /><polyline points="364.8,217.39 367.89,215.85 370.97,215.09 374.06,213.9 377.14,212.88 380.23,211.98 383.31,210.5 386.4,209.68 389.49,208.66 392.57,207.76 395.66,206.69 398.74,205.9 401.83,204.88 404.91,204.04 408.0,203.3" fill="none" stroke="#000000" stroke-width="0.6" opacity="0.72" stroke-linejoin="miter" /><polyline points="364.8,216.19 367.17,214.7 369.54,213.79 371.91,213.13 374.29,212.14 376.66,211.24 379.03,210.05 381.4,209.35 383.77,208.38 386.14,207.47 388.51,206.41 390.89,205.63 393.26,204.74 395.63,204.02 398.0,203.3" fill="none" stroke="#DF536B" stroke-width="0.6" opacity="0.72" stroke-linejoin="miter" /><polyline points="364.8,221.62 368.03,220.43 371.26,219.11 374.49,217.66 377.71,215.99 380.94,214.95 384.17,213.31 387.4,212.03 390.63,210.53 393.86,209.34 397.09,207.93 400.31,206.66 403.54,205.5 406.77,204.31 410.0,203.3" fill="none" stroke="#2297E6" stroke-width="0.6" opacity="0.72" stroke-linejoin="miter" /></g>
<polyline points="364.8,175.6 375,179.6 387,186.2 400,191.8 414,198.2 425,200.8 440,202.8 455,203.3" fill="none" stroke="#61D04F" stroke-width="0.6" opacity="0.9" stroke-linejoin="miter" />
<polyline points="364.8,180 374,185.3 383.2,191.3 390,195.6 395.8,199.4 402,202 410,203 425,203.3" fill="none" stroke="#000000" stroke-width="0.6" opacity="0.8" stroke-linejoin="miter" />
<polyline points="364.8,178.6 374,184.3 383.2,190.6 390,194.6 397,197.4 406,200.5 420,202.8 440,203.3" fill="none" stroke="#2297E6" stroke-width="0.6" opacity="0.9" stroke-linejoin="miter" />
<polyline points="364.8,229.5 375,222.4 384.5,215.7 393,210.5 400,207 410,204.3 420,203.5 432,203.3" fill="none" stroke="#61D04F" stroke-width="0.6" opacity="0.9" stroke-linejoin="miter" />
<polyline points="364.8,206.5 380,208.3 395,211 404,213.3 408.4,214.5 411,214.2 430,210.8 450,207.2 467.8,203.9 478.4,203.3" fill="none" stroke="#E04FD3" stroke-width="0.7" opacity="0.95" stroke-linejoin="miter" />
<path d="M418.00,203.40 C419.67,203.30 424.93,203.03 428.00,202.80 C431.07,202.57 433.57,202.35 436.40,202.00 C439.23,201.65 442.48,200.97 445.00,200.70 C447.52,200.43 449.17,200.32 451.50,200.40 C453.83,200.48 456.28,200.78 459.00,201.20 C461.72,201.62 464.57,202.55 467.80,202.90 C471.03,203.25 476.63,203.23 478.40,203.30" fill="none" stroke="#F0A0AE" stroke-width="0.6"/>
<path d="M405.00,195.10 C406.67,195.65 411.67,197.45 415.00,198.40 C418.33,199.35 420.83,200.17 425.00,200.80 C429.17,201.43 435.50,201.83 440.00,202.20 C444.50,202.57 450.00,202.87 452.00,203.00" fill="none" stroke="#8FE07F" stroke-width="0.6"/>
<path d="M440.00,204.00 C442.50,204.05 450.00,204.32 455.00,204.30 C460.00,204.28 466.10,204.07 470.00,203.90 C473.90,203.73 477.00,203.40 478.40,203.30" fill="none" stroke="#2297E6" stroke-width="0.6" opacity="0.8"/>
<rect x="360.9" y="173.2" width="122.60000000000002" height="58.5" fill="none" stroke="#7a7a7a" stroke-width="0.8"/>
<line x1="362.50" y1="231.7" x2="362.50" y2="234.2" stroke="#7a7a7a" stroke-width="0.7"/>
<line x1="362.50" y1="173.2" x2="362.50" y2="172.2" stroke="#7a7a7a" stroke-width="0.7"/>
<text class="ff-n" transform="translate(362.5,242.2) scale(1.2,1.0)" font-size="5.6" text-anchor="middle" fill="#222" stroke="#222" stroke-width="0.2" font-weight="normal" opacity="1">−7</text>
<line x1="387.10" y1="231.7" x2="387.10" y2="234.2" stroke="#7a7a7a" stroke-width="0.7"/>
<line x1="387.10" y1="173.2" x2="387.10" y2="172.2" stroke="#7a7a7a" stroke-width="0.7"/>
<text class="ff-n" transform="translate(387.1,242.2) scale(1.2,1.0)" font-size="5.6" text-anchor="middle" fill="#222" stroke="#222" stroke-width="0.2" font-weight="normal" opacity="1">−6</text>
<line x1="411.70" y1="231.7" x2="411.70" y2="234.2" stroke="#7a7a7a" stroke-width="0.7"/>
<line x1="411.70" y1="173.2" x2="411.70" y2="172.2" stroke="#7a7a7a" stroke-width="0.7"/>
<text class="ff-n" transform="translate(411.7,242.2) scale(1.2,1.0)" font-size="5.6" text-anchor="middle" fill="#222" stroke="#222" stroke-width="0.2" font-weight="normal" opacity="1">−5</text>
<line x1="436.30" y1="231.7" x2="436.30" y2="234.2" stroke="#7a7a7a" stroke-width="0.7"/>
<line x1="436.30" y1="173.2" x2="436.30" y2="172.2" stroke="#7a7a7a" stroke-width="0.7"/>
<text class="ff-n" transform="translate(436.3,242.2) scale(1.2,1.0)" font-size="5.6" text-anchor="middle" fill="#222" stroke="#222" stroke-width="0.2" font-weight="normal" opacity="1">−4</text>
<line x1="460.90" y1="231.7" x2="460.90" y2="234.2" stroke="#7a7a7a" stroke-width="0.7"/>
<line x1="460.90" y1="173.2" x2="460.90" y2="172.2" stroke="#7a7a7a" stroke-width="0.7"/>
<text class="ff-n" transform="translate(460.9,242.2) scale(1.2,1.0)" font-size="5.6" text-anchor="middle" fill="#222" stroke="#222" stroke-width="0.2" font-weight="normal" opacity="1">−3</text>
<text class="ff-n" transform="translate(421.5,253.7) scale(1.2,1.0)" font-size="5.7" text-anchor="middle" fill="#222" stroke="#222" stroke-width="0.2" font-weight="normal" opacity="1">Log Lambda</text>
<text class="ff-n" transform="translate(362.1,167.1) scale(1.2,1.0)" font-size="5.6" text-anchor="middle" fill="#222" stroke="#222" stroke-width="0.2" font-weight="normal" opacity="1">93</text>
<text class="ff-n" transform="translate(386.6,167.1) scale(1.2,1.0)" font-size="5.6" text-anchor="middle" fill="#222" stroke="#222" stroke-width="0.2" font-weight="normal" opacity="1">81</text>
<text class="ff-n" transform="translate(411.4,167.1) scale(1.2,1.0)" font-size="5.6" text-anchor="middle" fill="#222" stroke="#222" stroke-width="0.2" font-weight="normal" opacity="1">44</text>
<text class="ff-n" transform="translate(436.3,167.1) scale(1.2,1.0)" font-size="5.6" text-anchor="middle" fill="#222" stroke="#222" stroke-width="0.2" font-weight="normal" opacity="1">16</text>
<text class="ff-n" transform="translate(460.9,167.1) scale(1.2,1.0)" font-size="5.6" text-anchor="middle" fill="#222" stroke="#222" stroke-width="0.2" font-weight="normal" opacity="1">4</text>
<line x1="356.29999999999995" y1="180.6" x2="360.9" y2="180.6" stroke="#7a7a7a" stroke-width="0.7"/>
<text class="ff-n" transform="translate(351.0,180.79999999999998) scale(1.25,1.0) rotate(-90)" font-size="5.0" text-anchor="middle" fill="#222" stroke="#222" stroke-width="0.2" font-weight="normal" opacity="1">3</text>
<line x1="356.29999999999995" y1="188.1" x2="360.9" y2="188.1" stroke="#7a7a7a" stroke-width="0.7"/>
<text class="ff-n" transform="translate(351.0,188.29999999999998) scale(1.25,1.0) rotate(-90)" font-size="5.0" text-anchor="middle" fill="#222" stroke="#222" stroke-width="0.2" font-weight="normal" opacity="1">2</text>
<line x1="356.29999999999995" y1="195.4" x2="360.9" y2="195.4" stroke="#7a7a7a" stroke-width="0.7"/>
<text class="ff-n" transform="translate(351.0,195.6) scale(1.25,1.0) rotate(-90)" font-size="5.0" text-anchor="middle" fill="#222" stroke="#222" stroke-width="0.2" font-weight="normal" opacity="1">1</text>
<line x1="356.29999999999995" y1="203.3" x2="360.9" y2="203.3" stroke="#7a7a7a" stroke-width="0.7"/>
<line x1="356.29999999999995" y1="211.0" x2="360.9" y2="211.0" stroke="#7a7a7a" stroke-width="0.7"/>
<text class="ff-n" transform="translate(351.0,211.2) scale(1.25,1.0) rotate(-90)" font-size="5.0" text-anchor="middle" fill="#222" stroke="#222" stroke-width="0.2" font-weight="normal" opacity="1">−1</text>
<line x1="356.29999999999995" y1="218.6" x2="360.9" y2="218.6" stroke="#7a7a7a" stroke-width="0.7"/>
<line x1="356.29999999999995" y1="226.1" x2="360.9" y2="226.1" stroke="#7a7a7a" stroke-width="0.7"/>
<text class="ff-n" transform="translate(351.0,226.29999999999998) scale(1.25,1.0) rotate(-90)" font-size="5.0" text-anchor="middle" fill="#222" stroke="#222" stroke-width="0.2" font-weight="normal" opacity="1">−3</text>
<text class="ff-n" transform="translate(336.0,202.8) scale(1.5,1.0) rotate(-90)" font-size="4.8" text-anchor="middle" fill="#333" stroke="#333" stroke-width="0.05" font-weight="normal" opacity="1">Coefficients</text>
<line x1="405.50" y1="284.0" x2="405.50" y2="385.7" stroke="#efefef" stroke-width="0.6"/>
<line x1="419.90" y1="284.0" x2="419.90" y2="385.7" stroke="#efefef" stroke-width="0.6"/>
<line x1="434.30" y1="284.0" x2="434.30" y2="385.7" stroke="#efefef" stroke-width="0.6"/>
<line x1="448.70" y1="284.0" x2="448.70" y2="385.7" stroke="#efefef" stroke-width="0.6"/>
<line x1="463.10" y1="284.0" x2="463.10" y2="385.7" stroke="#efefef" stroke-width="0.6"/>
<line x1="477.50" y1="284.0" x2="477.50" y2="385.7" stroke="#efefef" stroke-width="0.6"/>
<line x1="491.90" y1="284.0" x2="491.90" y2="385.7" stroke="#efefef" stroke-width="0.6"/>
<line x1="405.5" y1="290.05" x2="502.9" y2="290.05" stroke="#efefef" stroke-width="0.6"/>
<rect x="463.10" y="285.00" width="35.50" height="10.1" fill="#0000ff"/>
<text class="ff-n" x="404.8" y="291.05" font-size="3.1" text-anchor="end" fill="#333" opacity="1" font-weight="normal" stroke="#333" stroke-width="0.06" textLength="43.6" lengthAdjust="spacingAndGlyphs">D_log-sigma-1-0-mm-3D_glrlm_RunVariance</text>
<line x1="405.5" y1="301.27" x2="502.9" y2="301.27" stroke="#efefef" stroke-width="0.6"/>
<rect x="463.10" y="296.22" width="21.90" height="10.1" fill="#0000ff"/>
<text class="ff-n" x="404.8" y="302.27" font-size="3.1" text-anchor="end" fill="#333" opacity="1" font-weight="normal" stroke="#333" stroke-width="0.06" textLength="70.8" lengthAdjust="spacingAndGlyphs">A_log-sigma-1-0-mm-3D_gldm_LargeDependenceHighGrayLevelEmphasis</text>
<line x1="405.5" y1="312.49" x2="502.9" y2="312.49" stroke="#efefef" stroke-width="0.6"/>
<rect x="463.10" y="307.44" width="6.90" height="10.1" fill="#0000ff"/>
<text class="ff-n" x="404.8" y="313.49" font-size="3.1" text-anchor="end" fill="#333" opacity="1" font-weight="normal" stroke="#333" stroke-width="0.06" textLength="54.0" lengthAdjust="spacingAndGlyphs">A_wavelet-HLH_glszm_LargeAreaHighGrayLevelEmphasis</text>
<line x1="405.5" y1="323.71" x2="502.9" y2="323.71" stroke="#efefef" stroke-width="0.6"/>
<rect x="463.10" y="318.66" width="2.20" height="10.1" fill="#0000ff"/>
<text class="ff-n" x="404.8" y="324.71" font-size="3.1" text-anchor="end" fill="#333" opacity="1" font-weight="normal" stroke="#333" stroke-width="0.06" textLength="33.5" lengthAdjust="spacingAndGlyphs">V_wavelet-HHL_glcm_JointEntropy</text>
<line x1="405.5" y1="334.93" x2="502.9" y2="334.93" stroke="#efefef" stroke-width="0.6"/>
<rect x="463.10" y="329.88" width="1.00" height="10.1" fill="#0000ff"/>
<text class="ff-n" x="404.8" y="335.93" font-size="3.1" text-anchor="end" fill="#333" opacity="1" font-weight="normal" stroke="#333" stroke-width="0.06" textLength="55.3" lengthAdjust="spacingAndGlyphs">D_log-sigma-3-0-mm-3D_glszm_SizeZoneNonUniformity</text>
<line x1="405.5" y1="346.15" x2="502.9" y2="346.15" stroke="#efefef" stroke-width="0.6"/>
<rect x="459.30" y="341.10" width="3.80" height="10.1" fill="#0000ff"/>
<text class="ff-n" x="404.8" y="347.15" font-size="3.1" text-anchor="end" fill="#333" opacity="1" font-weight="normal" stroke="#333" stroke-width="0.06" textLength="30.6" lengthAdjust="spacingAndGlyphs">D_wavelet-LHL_ngtdm_Contrast</text>
<line x1="405.5" y1="357.37" x2="502.9" y2="357.37" stroke="#efefef" stroke-width="0.6"/>
<rect x="456.90" y="352.32" width="6.20" height="10.1" fill="#0000ff"/>
<text class="ff-n" x="404.8" y="358.37" font-size="3.1" text-anchor="end" fill="#333" opacity="1" font-weight="normal" stroke="#333" stroke-width="0.06" textLength="60.3" lengthAdjust="spacingAndGlyphs">A_wavelet-HLL_gldm_SmallDependenceLowGrayLevelEmphasis</text>
<line x1="405.5" y1="368.59" x2="502.9" y2="368.59" stroke="#efefef" stroke-width="0.6"/>
<rect x="448.00" y="363.54" width="15.10" height="10.1" fill="#0000ff"/>
<text class="ff-n" x="404.8" y="369.59" font-size="3.1" text-anchor="end" fill="#333" opacity="1" font-weight="normal" stroke="#333" stroke-width="0.06" textLength="33.2" lengthAdjust="spacingAndGlyphs">D_wavelet-LHH_glcm_JointEnergy</text>
<line x1="405.5" y1="379.81" x2="502.9" y2="379.81" stroke="#efefef" stroke-width="0.6"/>
<rect x="408.80" y="374.76" width="54.30" height="10.1" fill="#0000ff"/>
<text class="ff-n" x="404.8" y="380.81" font-size="3.1" text-anchor="end" fill="#333" opacity="1" font-weight="normal" stroke="#333" stroke-width="0.06" textLength="40.2" lengthAdjust="spacingAndGlyphs">V_wavelet-LLL_glcm_MaximumProbability</text>
<text class="ff-n" x="431.7" y="280.8" font-size="3.8" text-anchor="middle" fill="#111" opacity="1" font-weight="normal" stroke="#111" stroke-width="0.18" textLength="55.0" lengthAdjust="spacingAndGlyphs">LASSO Selected Features and Coefficients</text>
<text class="ff-n" x="453.4" y="393.3" font-size="3.1" text-anchor="middle" fill="#1a1a1a" opacity="1" font-weight="normal" stroke="#1a1a1a" stroke-width="0.14" textLength="11.5" lengthAdjust="spacingAndGlyphs">Coefficients</text>
<text class="ff-n" x="405.7" y="389.8" font-size="2.6" text-anchor="middle" fill="#555" opacity="1" font-weight="normal" textLength="4.6" lengthAdjust="spacingAndGlyphs">-0.10</text>
<text class="ff-n" x="434.4" y="389.8" font-size="2.6" text-anchor="middle" fill="#555" opacity="1" font-weight="normal" textLength="4.6" lengthAdjust="spacingAndGlyphs">-0.05</text>
<text class="ff-n" x="462.9" y="389.8" font-size="2.6" text-anchor="middle" fill="#555" opacity="1" font-weight="normal" textLength="4.6" lengthAdjust="spacingAndGlyphs">0.00</text>
<text class="ff-n" x="491.3" y="389.8" font-size="2.6" text-anchor="middle" fill="#555" opacity="1" font-weight="normal" textLength="4.6" lengthAdjust="spacingAndGlyphs">0.05</text>
<text class="ff-n" x="337.5" y="335.2" font-size="3.9" text-anchor="middle" fill="#2a2a2a" opacity="1" font-weight="normal" textLength="13.7" lengthAdjust="spacingAndGlyphs" transform="rotate(-90 337.5 335.2)">Features</text>
<text class="ff-n" x="544.2" y="52.6" font-size="3.7" text-anchor="start" fill="#1c1c1c" opacity="1" font-weight="normal" stroke="#1c1c1c" stroke-width="0.16" textLength="7.9" lengthAdjust="spacingAndGlyphs">Points</text>
<line x1="561.1" y1="51.5" x2="683.1" y2="51.5" stroke="#4a4a4a" stroke-width="0.42"/><path d="M561.10,51.5 v-0.9M562.32,51.5 v-0.9M563.54,51.5 v-0.9M564.76,51.5 v-0.9M565.98,51.5 v-0.9M567.20,51.5 v-0.9M568.42,51.5 v-0.9M569.64,51.5 v-0.9M570.86,51.5 v-0.9M572.08,51.5 v-0.9M573.30,51.5 v-0.9M574.52,51.5 v-0.9M575.74,51.5 v-0.9M576.96,51.5 v-0.9M578.18,51.5 v-0.9M579.40,51.5 v-0.9M580.62,51.5 v-0.9M581.84,51.5 v-0.9M583.06,51.5 v-0.9M584.28,51.5 v-0.9M585.50,51.5 v-0.9M586.72,51.5 v-0.9M587.94,51.5 v-0.9M589.16,51.5 v-0.9M590.38,51.5 v-0.9M591.60,51.5 v-0.9M592.82,51.5 v-0.9M594.04,51.5 v-0.9M595.26,51.5 v-0.9M596.48,51.5 v-0.9M597.70,51.5 v-0.9M598.92,51.5 v-0.9M600.14,51.5 v-0.9M601.36,51.5 v-0.9M602.58,51.5 v-0.9M603.80,51.5 v-0.9M605.02,51.5 v-0.9M606.24,51.5 v-0.9M607.46,51.5 v-0.9M608.68,51.5 v-0.9M609.90,51.5 v-0.9M611.12,51.5 v-0.9M612.34,51.5 v-0.9M613.56,51.5 v-0.9M614.78,51.5 v-0.9M616.00,51.5 v-0.9M617.22,51.5 v-0.9M618.44,51.5 v-0.9M619.66,51.5 v-0.9M620.88,51.5 v-0.9M622.10,51.5 v-0.9M623.32,51.5 v-0.9M624.54,51.5 v-0.9M625.76,51.5 v-0.9M626.98,51.5 v-0.9M628.20,51.5 v-0.9M629.42,51.5 v-0.9M630.64,51.5 v-0.9M631.86,51.5 v-0.9M633.08,51.5 v-0.9M634.30,51.5 v-0.9M635.52,51.5 v-0.9M636.74,51.5 v-0.9M637.96,51.5 v-0.9M639.18,51.5 v-0.9M640.40,51.5 v-0.9M641.62,51.5 v-0.9M642.84,51.5 v-0.9M644.06,51.5 v-0.9M645.28,51.5 v-0.9M646.50,51.5 v-0.9M647.72,51.5 v-0.9M648.94,51.5 v-0.9M650.16,51.5 v-0.9M651.38,51.5 v-0.9M652.60,51.5 v-0.9M653.82,51.5 v-0.9M655.04,51.5 v-0.9M656.26,51.5 v-0.9M657.48,51.5 v-0.9M658.70,51.5 v-0.9M659.92,51.5 v-0.9M661.14,51.5 v-0.9M662.36,51.5 v-0.9M663.58,51.5 v-0.9M664.80,51.5 v-0.9M666.02,51.5 v-0.9M667.24,51.5 v-0.9M668.46,51.5 v-0.9M669.68,51.5 v-0.9M670.90,51.5 v-0.9M672.12,51.5 v-0.9M673.34,51.5 v-0.9M674.56,51.5 v-0.9M675.78,51.5 v-0.9M677.00,51.5 v-0.9M678.22,51.5 v-0.9M679.44,51.5 v-0.9M680.66,51.5 v-0.9M681.88,51.5 v-0.9M683.10,51.5 v-0.9" stroke="#4a4a4a" stroke-width="0.45" fill="none" opacity="0.8"/><path d="M561.10,51.5 v-1.4M573.30,51.5 v-1.4M585.50,51.5 v-1.4M597.70,51.5 v-1.4M609.90,51.5 v-1.4M622.10,51.5 v-1.4M634.30,51.5 v-1.4M646.50,51.5 v-1.4M658.70,51.5 v-1.4M670.90,51.5 v-1.4M683.10,51.5 v-1.4" stroke="#4a4a4a" stroke-width="0.5" fill="none"/>
<text class="ff-n" x="561.1" y="49.3" font-size="3.0" text-anchor="middle" fill="#2a2a2a" opacity="1" font-weight="normal" stroke="#2a2a2a" stroke-width="0.1" textLength="1.5" lengthAdjust="spacingAndGlyphs">0</text>
<text class="ff-n" x="573.3" y="49.3" font-size="3.0" text-anchor="middle" fill="#2a2a2a" opacity="1" font-weight="normal" stroke="#2a2a2a" stroke-width="0.1" textLength="3.0" lengthAdjust="spacingAndGlyphs">10</text>
<text class="ff-n" x="585.5" y="49.3" font-size="3.0" text-anchor="middle" fill="#2a2a2a" opacity="1" font-weight="normal" stroke="#2a2a2a" stroke-width="0.1" textLength="3.0" lengthAdjust="spacingAndGlyphs">20</text>
<text class="ff-n" x="597.7" y="49.3" font-size="3.0" text-anchor="middle" fill="#2a2a2a" opacity="1" font-weight="normal" stroke="#2a2a2a" stroke-width="0.1" textLength="3.0" lengthAdjust="spacingAndGlyphs">30</text>
<text class="ff-n" x="609.9" y="49.3" font-size="3.0" text-anchor="middle" fill="#2a2a2a" opacity="1" font-weight="normal" stroke="#2a2a2a" stroke-width="0.1" textLength="3.0" lengthAdjust="spacingAndGlyphs">40</text>
<text class="ff-n" x="622.1" y="49.3" font-size="3.0" text-anchor="middle" fill="#2a2a2a" opacity="1" font-weight="normal" stroke="#2a2a2a" stroke-width="0.1" textLength="3.0" lengthAdjust="spacingAndGlyphs">50</text>
<text class="ff-n" x="634.3" y="49.3" font-size="3.0" text-anchor="middle" fill="#2a2a2a" opacity="1" font-weight="normal" stroke="#2a2a2a" stroke-width="0.1" textLength="3.0" lengthAdjust="spacingAndGlyphs">60</text>
<text class="ff-n" x="646.5" y="49.3" font-size="3.0" text-anchor="middle" fill="#2a2a2a" opacity="1" font-weight="normal" stroke="#2a2a2a" stroke-width="0.1" textLength="3.0" lengthAdjust="spacingAndGlyphs">70</text>
<text class="ff-n" x="658.7" y="49.3" font-size="3.0" text-anchor="middle" fill="#2a2a2a" opacity="1" font-weight="normal" stroke="#2a2a2a" stroke-width="0.1" textLength="3.0" lengthAdjust="spacingAndGlyphs">80</text>
<text class="ff-n" x="670.9" y="49.3" font-size="3.0" text-anchor="middle" fill="#2a2a2a" opacity="1" font-weight="normal" stroke="#2a2a2a" stroke-width="0.1" textLength="3.0" lengthAdjust="spacingAndGlyphs">90</text>
<text class="ff-n" x="683.1" y="49.3" font-size="3.0" text-anchor="middle" fill="#2a2a2a" opacity="1" font-weight="normal" stroke="#2a2a2a" stroke-width="0.1" textLength="4.5" lengthAdjust="spacingAndGlyphs">100</text>
<text class="ff-n" x="544.2" y="67.9" font-size="3.7" text-anchor="start" fill="#1c1c1c" opacity="1" font-weight="normal" stroke="#1c1c1c" stroke-width="0.16" textLength="5.0" lengthAdjust="spacingAndGlyphs">MVI</text>
<line x1="561.1" y1="65.5" x2="578.7" y2="65.5" stroke="#4a4a4a" stroke-width="0.42"/><path d="M578.70,65.5 v-1.4" stroke="#4a4a4a" stroke-width="0.5" fill="none"/>
<line x1="561.1" y1="65.5" x2="561.1" y2="66.8" stroke="#4a4a4a" stroke-width="0.5"/>
<text class="ff-n" x="578.7" y="63.2" font-size="3.0" text-anchor="middle" fill="#2a2a2a" opacity="1" font-weight="normal" stroke="#2a2a2a" stroke-width="0.1" textLength="1.5" lengthAdjust="spacingAndGlyphs">1</text>
<text class="ff-n" x="561.1" y="70.1" font-size="3.0" text-anchor="middle" fill="#2a2a2a" opacity="1" font-weight="normal" stroke="#2a2a2a" stroke-width="0.1" textLength="1.5" lengthAdjust="spacingAndGlyphs">0</text>
<text class="ff-n" x="544.2" y="80.5" font-size="3.7" text-anchor="start" fill="#1c1c1c" opacity="1" font-weight="normal" stroke="#1c1c1c" stroke-width="0.16" textLength="3.8" lengthAdjust="spacingAndGlyphs">PV</text>
<line x1="561.1" y1="79.3" x2="574.5" y2="79.3" stroke="#4a4a4a" stroke-width="0.42"/><path d="M574.50,79.3 v-1.4" stroke="#4a4a4a" stroke-width="0.5" fill="none"/>
<line x1="561.1" y1="79.3" x2="561.1" y2="80.6" stroke="#4a4a4a" stroke-width="0.5"/>
<text class="ff-n" x="574.5" y="77.0" font-size="3.0" text-anchor="middle" fill="#2a2a2a" opacity="1" font-weight="normal" stroke="#2a2a2a" stroke-width="0.1" textLength="1.5" lengthAdjust="spacingAndGlyphs">1</text>
<text class="ff-n" x="561.1" y="84.2" font-size="3.0" text-anchor="middle" fill="#2a2a2a" opacity="1" font-weight="normal" stroke="#2a2a2a" stroke-width="0.1" textLength="1.5" lengthAdjust="spacingAndGlyphs">0</text>
<text class="ff-n" x="544.2" y="95.4" font-size="3.7" text-anchor="start" fill="#1c1c1c" opacity="1" font-weight="normal" stroke="#1c1c1c" stroke-width="0.16" textLength="5.0" lengthAdjust="spacingAndGlyphs">ALB</text>
<line x1="561.1" y1="92.8" x2="596.0" y2="92.8" stroke="#4a4a4a" stroke-width="0.42"/><path d="M561.10,92.8 v0.9M562.26,92.8 v0.9M563.43,92.8 v0.9M564.59,92.8 v0.9M565.75,92.8 v0.9M566.92,92.8 v0.9M568.08,92.8 v0.9M569.24,92.8 v0.9M570.41,92.8 v0.9M571.57,92.8 v0.9M572.73,92.8 v0.9M573.90,92.8 v0.9M575.06,92.8 v0.9M576.22,92.8 v0.9M577.39,92.8 v0.9M578.55,92.8 v0.9M579.71,92.8 v0.9M580.88,92.8 v0.9M582.04,92.8 v0.9M583.20,92.8 v0.9M584.37,92.8 v0.9M585.53,92.8 v0.9M586.69,92.8 v0.9M587.86,92.8 v0.9M589.02,92.8 v0.9M590.18,92.8 v0.9M591.35,92.8 v0.9M592.51,92.8 v0.9M593.67,92.8 v0.9M594.84,92.8 v0.9M596.00,92.8 v0.9" stroke="#4a4a4a" stroke-width="0.45" fill="none" opacity="0.8"/>
<text class="ff-n" x="561.1" y="97.6" font-size="3.0" text-anchor="middle" fill="#2a2a2a" opacity="1" font-weight="normal" stroke="#2a2a2a" stroke-width="0.1" textLength="3.0" lengthAdjust="spacingAndGlyphs">52</text>
<text class="ff-n" x="568.0" y="97.6" font-size="3.0" text-anchor="middle" fill="#2a2a2a" opacity="1" font-weight="normal" stroke="#2a2a2a" stroke-width="0.1" textLength="3.0" lengthAdjust="spacingAndGlyphs">46</text>
<text class="ff-n" x="575.1" y="97.6" font-size="3.0" text-anchor="middle" fill="#2a2a2a" opacity="1" font-weight="normal" stroke="#2a2a2a" stroke-width="0.1" textLength="3.0" lengthAdjust="spacingAndGlyphs">40</text>
<text class="ff-n" x="582.1" y="97.6" font-size="3.0" text-anchor="middle" fill="#2a2a2a" opacity="1" font-weight="normal" stroke="#2a2a2a" stroke-width="0.1" textLength="3.0" lengthAdjust="spacingAndGlyphs">34</text>
<text class="ff-n" x="589.0" y="97.6" font-size="3.0" text-anchor="middle" fill="#2a2a2a" opacity="1" font-weight="normal" stroke="#2a2a2a" stroke-width="0.1" textLength="3.0" lengthAdjust="spacingAndGlyphs">28</text>
<text class="ff-n" x="596.0" y="97.6" font-size="3.0" text-anchor="middle" fill="#2a2a2a" opacity="1" font-weight="normal" stroke="#2a2a2a" stroke-width="0.1" textLength="3.0" lengthAdjust="spacingAndGlyphs">22</text>
<text class="ff-n" x="544.2" y="109.2" font-size="3.7" text-anchor="start" fill="#1c1c1c" opacity="1" font-weight="normal" stroke="#1c1c1c" stroke-width="0.16" textLength="12.5" lengthAdjust="spacingAndGlyphs">Radscore</text>
<line x1="561.1" y1="106.3" x2="682.9" y2="106.3" stroke="#4a4a4a" stroke-width="0.42"/><path d="M561.10,106.3 v1.4M570.47,106.3 v1.4M579.84,106.3 v1.4M589.21,106.3 v1.4M598.58,106.3 v1.4M607.95,106.3 v1.4M617.32,106.3 v1.4M626.69,106.3 v1.4M636.06,106.3 v1.4M645.43,106.3 v1.4M654.80,106.3 v1.4M664.17,106.3 v1.4M673.54,106.3 v1.4M682.91,106.3 v1.4" stroke="#4a4a4a" stroke-width="0.5" fill="none"/>
<text class="ff-n" x="561.1" y="111.4" font-size="3.0" text-anchor="middle" fill="#2a2a2a" opacity="1" font-weight="normal" stroke="#2a2a2a" stroke-width="0.1" textLength="3.0" lengthAdjust="spacingAndGlyphs">−5</text>
<text class="ff-n" x="570.47" y="111.4" font-size="3.0" text-anchor="middle" fill="#2a2a2a" opacity="1" font-weight="normal" stroke="#2a2a2a" stroke-width="0.1" textLength="6.0" lengthAdjust="spacingAndGlyphs">−4.5</text>
<text class="ff-n" x="579.84" y="111.4" font-size="3.0" text-anchor="middle" fill="#2a2a2a" opacity="1" font-weight="normal" stroke="#2a2a2a" stroke-width="0.1" textLength="3.0" lengthAdjust="spacingAndGlyphs">−4</text>
<text class="ff-n" x="589.21" y="111.4" font-size="3.0" text-anchor="middle" fill="#2a2a2a" opacity="1" font-weight="normal" stroke="#2a2a2a" stroke-width="0.1" textLength="6.0" lengthAdjust="spacingAndGlyphs">−3.5</text>
<text class="ff-n" x="598.58" y="111.4" font-size="3.0" text-anchor="middle" fill="#2a2a2a" opacity="1" font-weight="normal" stroke="#2a2a2a" stroke-width="0.1" textLength="3.0" lengthAdjust="spacingAndGlyphs">−3</text>
<text class="ff-n" x="607.95" y="111.4" font-size="3.0" text-anchor="middle" fill="#2a2a2a" opacity="1" font-weight="normal" stroke="#2a2a2a" stroke-width="0.1" textLength="6.0" lengthAdjust="spacingAndGlyphs">−2.5</text>
<text class="ff-n" x="617.32" y="111.4" font-size="3.0" text-anchor="middle" fill="#2a2a2a" opacity="1" font-weight="normal" stroke="#2a2a2a" stroke-width="0.1" textLength="3.0" lengthAdjust="spacingAndGlyphs">−2</text>
<text class="ff-n" x="626.69" y="111.4" font-size="3.0" text-anchor="middle" fill="#2a2a2a" opacity="1" font-weight="normal" stroke="#2a2a2a" stroke-width="0.1" textLength="6.0" lengthAdjust="spacingAndGlyphs">−1.5</text>
<text class="ff-n" x="636.06" y="111.4" font-size="3.0" text-anchor="middle" fill="#2a2a2a" opacity="1" font-weight="normal" stroke="#2a2a2a" stroke-width="0.1" textLength="3.0" lengthAdjust="spacingAndGlyphs">−1</text>
<text class="ff-n" x="645.43" y="111.4" font-size="3.0" text-anchor="middle" fill="#2a2a2a" opacity="1" font-weight="normal" stroke="#2a2a2a" stroke-width="0.1" textLength="6.0" lengthAdjust="spacingAndGlyphs">−0.5</text>
<text class="ff-n" x="654.8" y="111.4" font-size="3.0" text-anchor="middle" fill="#2a2a2a" opacity="1" font-weight="normal" stroke="#2a2a2a" stroke-width="0.1" textLength="1.5" lengthAdjust="spacingAndGlyphs">0</text>
<text class="ff-n" x="664.17" y="111.4" font-size="3.0" text-anchor="middle" fill="#2a2a2a" opacity="1" font-weight="normal" stroke="#2a2a2a" stroke-width="0.1" textLength="4.5" lengthAdjust="spacingAndGlyphs">0.5</text>
<text class="ff-n" x="673.54" y="111.4" font-size="3.0" text-anchor="middle" fill="#2a2a2a" opacity="1" font-weight="normal" stroke="#2a2a2a" stroke-width="0.1" textLength="1.5" lengthAdjust="spacingAndGlyphs">1</text>
<text class="ff-n" x="682.91" y="111.4" font-size="3.0" text-anchor="middle" fill="#2a2a2a" opacity="1" font-weight="normal" stroke="#2a2a2a" stroke-width="0.1" textLength="4.5" lengthAdjust="spacingAndGlyphs">1.5</text>
<text class="ff-n" x="544.2" y="122.6" font-size="3.7" text-anchor="start" fill="#1c1c1c" opacity="1" font-weight="normal" stroke="#1c1c1c" stroke-width="0.16" textLength="14.7" lengthAdjust="spacingAndGlyphs">Total Points</text>
<line x1="561.1" y1="120.4" x2="682.9" y2="120.4" stroke="#4a4a4a" stroke-width="0.42"/><path d="M561.10,120.4 v0.9M562.27,120.4 v0.9M563.44,120.4 v0.9M564.61,120.4 v0.9M565.78,120.4 v0.9M566.96,120.4 v0.9M568.13,120.4 v0.9M569.30,120.4 v0.9M570.47,120.4 v0.9M571.64,120.4 v0.9M572.81,120.4 v0.9M573.98,120.4 v0.9M575.15,120.4 v0.9M576.33,120.4 v0.9M577.50,120.4 v0.9M578.67,120.4 v0.9M579.84,120.4 v0.9M581.01,120.4 v0.9M582.18,120.4 v0.9M583.35,120.4 v0.9M584.52,120.4 v0.9M585.69,120.4 v0.9M586.87,120.4 v0.9M588.04,120.4 v0.9M589.21,120.4 v0.9M590.38,120.4 v0.9M591.55,120.4 v0.9M592.72,120.4 v0.9M593.89,120.4 v0.9M595.06,120.4 v0.9M596.23,120.4 v0.9M597.41,120.4 v0.9M598.58,120.4 v0.9M599.75,120.4 v0.9M600.92,120.4 v0.9M602.09,120.4 v0.9M603.26,120.4 v0.9M604.43,120.4 v0.9M605.60,120.4 v0.9M606.77,120.4 v0.9M607.95,120.4 v0.9M609.12,120.4 v0.9M610.29,120.4 v0.9M611.46,120.4 v0.9M612.63,120.4 v0.9M613.80,120.4 v0.9M614.97,120.4 v0.9M616.14,120.4 v0.9M617.32,120.4 v0.9M618.49,120.4 v0.9M619.66,120.4 v0.9M620.83,120.4 v0.9M622.00,120.4 v0.9M623.17,120.4 v0.9M624.34,120.4 v0.9M625.51,120.4 v0.9M626.68,120.4 v0.9M627.86,120.4 v0.9M629.03,120.4 v0.9M630.20,120.4 v0.9M631.37,120.4 v0.9M632.54,120.4 v0.9M633.71,120.4 v0.9M634.88,120.4 v0.9M636.05,120.4 v0.9M637.23,120.4 v0.9M638.40,120.4 v0.9M639.57,120.4 v0.9M640.74,120.4 v0.9M641.91,120.4 v0.9M643.08,120.4 v0.9M644.25,120.4 v0.9M645.42,120.4 v0.9M646.59,120.4 v0.9M647.77,120.4 v0.9M648.94,120.4 v0.9M650.11,120.4 v0.9M651.28,120.4 v0.9M652.45,120.4 v0.9M653.62,120.4 v0.9M654.79,120.4 v0.9M655.96,120.4 v0.9M657.13,120.4 v0.9M658.31,120.4 v0.9M659.48,120.4 v0.9M660.65,120.4 v0.9M661.82,120.4 v0.9M662.99,120.4 v0.9M664.16,120.4 v0.9M665.33,120.4 v0.9M666.50,120.4 v0.9M667.67,120.4 v0.9M668.85,120.4 v0.9M670.02,120.4 v0.9M671.19,120.4 v0.9M672.36,120.4 v0.9M673.53,120.4 v0.9M674.70,120.4 v0.9M675.87,120.4 v0.9M677.04,120.4 v0.9M678.22,120.4 v0.9M679.39,120.4 v0.9M680.56,120.4 v0.9M681.73,120.4 v0.9M682.90,120.4 v0.9" stroke="#4a4a4a" stroke-width="0.45" fill="none" opacity="0.8"/><path d="M561.10,120.4 v1.4M570.47,120.4 v1.4M579.84,120.4 v1.4M589.21,120.4 v1.4M598.58,120.4 v1.4M607.95,120.4 v1.4M617.32,120.4 v1.4M626.69,120.4 v1.4M636.06,120.4 v1.4M645.43,120.4 v1.4M654.80,120.4 v1.4M664.17,120.4 v1.4M673.54,120.4 v1.4M682.91,120.4 v1.4" stroke="#4a4a4a" stroke-width="0.5" fill="none"/>
<text class="ff-n" x="561.1" y="125.3" font-size="3.0" text-anchor="middle" fill="#2a2a2a" opacity="1" font-weight="normal" stroke="#2a2a2a" stroke-width="0.1" textLength="1.5" lengthAdjust="spacingAndGlyphs">0</text>
<text class="ff-n" x="570.47" y="125.3" font-size="3.0" text-anchor="middle" fill="#2a2a2a" opacity="1" font-weight="normal" stroke="#2a2a2a" stroke-width="0.1" textLength="3.0" lengthAdjust="spacingAndGlyphs">10</text>
<text class="ff-n" x="579.84" y="125.3" font-size="3.0" text-anchor="middle" fill="#2a2a2a" opacity="1" font-weight="normal" stroke="#2a2a2a" stroke-width="0.1" textLength="3.0" lengthAdjust="spacingAndGlyphs">20</text>
<text class="ff-n" x="589.21" y="125.3" font-size="3.0" text-anchor="middle" fill="#2a2a2a" opacity="1" font-weight="normal" stroke="#2a2a2a" stroke-width="0.1" textLength="3.0" lengthAdjust="spacingAndGlyphs">30</text>
<text class="ff-n" x="598.58" y="125.3" font-size="3.0" text-anchor="middle" fill="#2a2a2a" opacity="1" font-weight="normal" stroke="#2a2a2a" stroke-width="0.1" textLength="3.0" lengthAdjust="spacingAndGlyphs">40</text>
<text class="ff-n" x="607.95" y="125.3" font-size="3.0" text-anchor="middle" fill="#2a2a2a" opacity="1" font-weight="normal" stroke="#2a2a2a" stroke-width="0.1" textLength="3.0" lengthAdjust="spacingAndGlyphs">50</text>
<text class="ff-n" x="617.32" y="125.3" font-size="3.0" text-anchor="middle" fill="#2a2a2a" opacity="1" font-weight="normal" stroke="#2a2a2a" stroke-width="0.1" textLength="3.0" lengthAdjust="spacingAndGlyphs">60</text>
<text class="ff-n" x="626.69" y="125.3" font-size="3.0" text-anchor="middle" fill="#2a2a2a" opacity="1" font-weight="normal" stroke="#2a2a2a" stroke-width="0.1" textLength="3.0" lengthAdjust="spacingAndGlyphs">70</text>
<text class="ff-n" x="636.06" y="125.3" font-size="3.0" text-anchor="middle" fill="#2a2a2a" opacity="1" font-weight="normal" stroke="#2a2a2a" stroke-width="0.1" textLength="3.0" lengthAdjust="spacingAndGlyphs">80</text>
<text class="ff-n" x="645.43" y="125.3" font-size="3.0" text-anchor="middle" fill="#2a2a2a" opacity="1" font-weight="normal" stroke="#2a2a2a" stroke-width="0.1" textLength="3.0" lengthAdjust="spacingAndGlyphs">90</text>
<text class="ff-n" x="654.8" y="125.3" font-size="3.0" text-anchor="middle" fill="#2a2a2a" opacity="1" font-weight="normal" stroke="#2a2a2a" stroke-width="0.1" textLength="4.5" lengthAdjust="spacingAndGlyphs">100</text>
<text class="ff-n" x="664.17" y="125.3" font-size="3.0" text-anchor="middle" fill="#2a2a2a" opacity="1" font-weight="normal" stroke="#2a2a2a" stroke-width="0.1" textLength="4.5" lengthAdjust="spacingAndGlyphs">110</text>
<text class="ff-n" x="673.54" y="125.3" font-size="3.0" text-anchor="middle" fill="#2a2a2a" opacity="1" font-weight="normal" stroke="#2a2a2a" stroke-width="0.1" textLength="4.5" lengthAdjust="spacingAndGlyphs">120</text>
<text class="ff-n" x="682.91" y="125.3" font-size="3.0" text-anchor="middle" fill="#2a2a2a" opacity="1" font-weight="normal" stroke="#2a2a2a" stroke-width="0.1" textLength="4.5" lengthAdjust="spacingAndGlyphs">130</text>
<text class="ff-n" x="543.3" y="136.4" font-size="3.7" text-anchor="start" fill="#1c1c1c" opacity="1" font-weight="normal" stroke="#1c1c1c" stroke-width="0.16" textLength="31.9" lengthAdjust="spacingAndGlyphs">Extrahepatic metastasis</text>
<line x1="624.1" y1="133.9" x2="663.7" y2="133.9" stroke="#4a4a4a" stroke-width="0.42"/><path d="M624.70,133.9 v1.4M631.60,133.9 v1.4M636.70,133.9 v1.4M640.60,133.9 v1.4M644.00,133.9 v1.4M647.50,133.9 v1.4M651.10,133.9 v1.4M656.10,133.9 v1.4M663.00,133.9 v1.4" stroke="#4a4a4a" stroke-width="0.5" fill="none"/>
<text class="ff-n" x="624.7" y="138.8" font-size="3.0" text-anchor="middle" fill="#2a2a2a" opacity="1" font-weight="normal" stroke="#2a2a2a" stroke-width="0.1" textLength="3.6" lengthAdjust="spacingAndGlyphs">0.1</text>
<text class="ff-n" x="631.6" y="138.8" font-size="3.0" text-anchor="middle" fill="#2a2a2a" opacity="1" font-weight="normal" stroke="#2a2a2a" stroke-width="0.1" textLength="3.6" lengthAdjust="spacingAndGlyphs">0.2</text>
<text class="ff-n" x="636.7" y="138.8" font-size="3.0" text-anchor="middle" fill="#2a2a2a" opacity="1" font-weight="normal" stroke="#2a2a2a" stroke-width="0.1" textLength="3.6" lengthAdjust="spacingAndGlyphs">0.3</text>
<text class="ff-n" x="640.6" y="138.8" font-size="3.0" text-anchor="middle" fill="#2a2a2a" opacity="1" font-weight="normal" stroke="#2a2a2a" stroke-width="0.1" textLength="3.6" lengthAdjust="spacingAndGlyphs">0.4</text>
<text class="ff-n" x="644.0" y="138.8" font-size="3.0" text-anchor="middle" fill="#2a2a2a" opacity="1" font-weight="normal" stroke="#2a2a2a" stroke-width="0.1" textLength="3.6" lengthAdjust="spacingAndGlyphs">0.5</text>
<text class="ff-n" x="647.5" y="138.8" font-size="3.0" text-anchor="middle" fill="#2a2a2a" opacity="1" font-weight="normal" stroke="#2a2a2a" stroke-width="0.1" textLength="3.6" lengthAdjust="spacingAndGlyphs">0.6</text>
<text class="ff-n" x="651.1" y="138.8" font-size="3.0" text-anchor="middle" fill="#2a2a2a" opacity="1" font-weight="normal" stroke="#2a2a2a" stroke-width="0.1" textLength="3.6" lengthAdjust="spacingAndGlyphs">0.7</text>
<text class="ff-n" x="656.1" y="138.8" font-size="3.0" text-anchor="middle" fill="#2a2a2a" opacity="1" font-weight="normal" stroke="#2a2a2a" stroke-width="0.1" textLength="3.6" lengthAdjust="spacingAndGlyphs">0.8</text>
<text class="ff-n" x="663.0" y="138.8" font-size="3.0" text-anchor="middle" fill="#2a2a2a" opacity="1" font-weight="normal" stroke="#2a2a2a" stroke-width="0.1" textLength="3.6" lengthAdjust="spacingAndGlyphs">0.9</text>
<line x1="553.0" y1="264.4" x2="664.0" y2="176.3" stroke="#c4c4c4" stroke-width="0.6"/>
<polyline points="552.8,264.4 553.8,256.5 555.1,245.2 557.6,236.4 560.1,229.5 562.6,227.6 565.7,216.9 567.6,215.7 568.9,211.4 572.1,210.8 575.2,206.5 577.8,201.4 586.5,200.8 588.4,197 592.2,196.4 592.8,193.9 597.2,193.6 600.4,187 602.2,183.9 604.5,183.9 605.7,181.4 612.5,181.4 613.2,179.4 624.6,179.4 624.6,176.4 664,176.4" fill="none" stroke="#3030ff" stroke-width="0.85" opacity="1" stroke-linejoin="miter" />
<polyline points="552.8,264.4 553.2,252.7 555.1,246.4 558.8,244.5 560.7,236.4 565.7,235.8 567.6,225.1 569.5,221.3 572.9,220.7 573.9,210 576.4,207.5 579,201.4 582.1,196.4 584,191.4 589.7,189.5 598.5,189.5 599.7,183.9 600.7,183.9 607.5,182.7 607.5,179.4 638.4,179.4 638.4,176.4 664,176.4" fill="none" stroke="#22ee22" stroke-width="0.85" opacity="1" stroke-linejoin="miter" />
<polyline points="552.8,264.4 553.6,250 554.4,242.7 556.3,240.8 556.9,234.5 560.1,230.1 561.3,217.6 563.2,211.4 568.3,211.4 570.1,205.6 571.5,199.5 574,199.5 575.9,194.5 580.3,193.9 582.8,186.6 590.3,186.6 592.6,179.3 629.6,179.3 629.6,176.4 664,176.4" fill="none" stroke="#ff2222" stroke-width="0.85" opacity="1" stroke-linejoin="miter" />
<rect x="548.6" y="173.0" width="119.69999999999993" height="94.30000000000001" fill="none" stroke="#7a7a7a" stroke-width="0.8"/>
<rect x="583.6" y="241.7" width="84.69999999999993" height="25.600000000000023" fill="#fff" stroke="#7a7a7a" stroke-width="0.8"/>
<line x1="588.3" y1="248.2" x2="598.4" y2="248.2" stroke="#3030ff" stroke-width="0.9"/>
<text class="ff-n" x="604.0" y="250.2" font-size="4.5" text-anchor="start" fill="#1a1a1a" opacity="1" font-weight="normal" stroke="#1a1a1a" stroke-width="0.1" textLength="61.0" lengthAdjust="spacingAndGlyphs">Radiomics Model(0.824)</text>
<line x1="588.3" y1="254.7" x2="598.4" y2="254.7" stroke="#22ee22" stroke-width="0.9"/>
<text class="ff-n" x="604.0" y="256.7" font-size="4.5" text-anchor="start" fill="#1a1a1a" opacity="1" font-weight="normal" stroke="#1a1a1a" stroke-width="0.1" textLength="53.0" lengthAdjust="spacingAndGlyphs">Clinical Model(0.812)</text>
<line x1="588.3" y1="261.4" x2="598.4" y2="261.4" stroke="#ff2222" stroke-width="0.9"/>
<text class="ff-n" x="604.0" y="263.4" font-size="4.5" text-anchor="start" fill="#1a1a1a" opacity="1" font-weight="normal" stroke="#1a1a1a" stroke-width="0.1" textLength="60.5" lengthAdjust="spacingAndGlyphs">Combined Model(0.872)</text>
<line x1="545.1" y1="264.40" x2="548.6" y2="264.40" stroke="#7a7a7a" stroke-width="0.7"/>
<text class="ff-n" transform="translate(540.3,264.6) scale(1.05,1.0) rotate(-90)" font-size="5.0" text-anchor="middle" fill="#222" stroke="#222" stroke-width="0.08" font-weight="normal" opacity="1">0.0</text>
<line x1="553.00" y1="267.3" x2="553.00" y2="269.90000000000003" stroke="#7a7a7a" stroke-width="0.7"/>
<text class="ff-n" transform="translate(553.0,277.2) scale(1.15,1.0)" font-size="5.0" text-anchor="middle" fill="#222" stroke="#222" stroke-width="0.1" font-weight="normal" opacity="1">1.0</text>
<line x1="545.1" y1="246.78" x2="548.6" y2="246.78" stroke="#7a7a7a" stroke-width="0.7"/>
<text class="ff-n" transform="translate(540.3,246.98) scale(1.05,1.0) rotate(-90)" font-size="5.0" text-anchor="middle" fill="#222" stroke="#222" stroke-width="0.08" font-weight="normal" opacity="1">0.2</text>
<line x1="575.20" y1="267.3" x2="575.20" y2="269.90000000000003" stroke="#7a7a7a" stroke-width="0.7"/>
<text class="ff-n" transform="translate(575.2,277.2) scale(1.15,1.0)" font-size="5.0" text-anchor="middle" fill="#222" stroke="#222" stroke-width="0.1" font-weight="normal" opacity="1">0.8</text>
<line x1="545.1" y1="229.16" x2="548.6" y2="229.16" stroke="#7a7a7a" stroke-width="0.7"/>
<text class="ff-n" transform="translate(540.3,229.36) scale(1.05,1.0) rotate(-90)" font-size="5.0" text-anchor="middle" fill="#222" stroke="#222" stroke-width="0.08" font-weight="normal" opacity="1">0.4</text>
<line x1="597.40" y1="267.3" x2="597.40" y2="269.90000000000003" stroke="#7a7a7a" stroke-width="0.7"/>
<text class="ff-n" transform="translate(597.4,277.2) scale(1.15,1.0)" font-size="5.0" text-anchor="middle" fill="#222" stroke="#222" stroke-width="0.1" font-weight="normal" opacity="1">0.6</text>
<line x1="545.1" y1="211.54" x2="548.6" y2="211.54" stroke="#7a7a7a" stroke-width="0.7"/>
<text class="ff-n" transform="translate(540.3,211.74) scale(1.05,1.0) rotate(-90)" font-size="5.0" text-anchor="middle" fill="#222" stroke="#222" stroke-width="0.08" font-weight="normal" opacity="1">0.6</text>
<line x1="619.60" y1="267.3" x2="619.60" y2="269.90000000000003" stroke="#7a7a7a" stroke-width="0.7"/>
<text class="ff-n" transform="translate(619.6,277.2) scale(1.15,1.0)" font-size="5.0" text-anchor="middle" fill="#222" stroke="#222" stroke-width="0.1" font-weight="normal" opacity="1">0.4</text>
<line x1="545.1" y1="193.92" x2="548.6" y2="193.92" stroke="#7a7a7a" stroke-width="0.7"/>
<text class="ff-n" transform="translate(540.3,194.12) scale(1.05,1.0) rotate(-90)" font-size="5.0" text-anchor="middle" fill="#222" stroke="#222" stroke-width="0.08" font-weight="normal" opacity="1">0.8</text>
<line x1="641.80" y1="267.3" x2="641.80" y2="269.90000000000003" stroke="#7a7a7a" stroke-width="0.7"/>
<text class="ff-n" transform="translate(641.8,277.2) scale(1.15,1.0)" font-size="5.0" text-anchor="middle" fill="#222" stroke="#222" stroke-width="0.1" font-weight="normal" opacity="1">0.2</text>
<line x1="545.1" y1="176.30" x2="548.6" y2="176.30" stroke="#7a7a7a" stroke-width="0.7"/>
<text class="ff-n" transform="translate(540.3,176.5) scale(1.05,1.0) rotate(-90)" font-size="5.0" text-anchor="middle" fill="#222" stroke="#222" stroke-width="0.08" font-weight="normal" opacity="1">1.0</text>
<line x1="664.00" y1="267.3" x2="664.00" y2="269.90000000000003" stroke="#7a7a7a" stroke-width="0.7"/>
<text class="ff-n" transform="translate(664.0,277.2) scale(1.15,1.0)" font-size="5.0" text-anchor="middle" fill="#222" stroke="#222" stroke-width="0.1" font-weight="normal" opacity="1">0.0</text>
<text class="ff-n" transform="translate(608.5,286.0) scale(1.15,1.0)" font-size="5.0" text-anchor="middle" fill="#222" stroke="#222" stroke-width="0.1" font-weight="normal" opacity="1">Specificity</text>
<text class="ff-n" transform="translate(530.6,220.6) scale(1.1,1.0) rotate(-90)" font-size="4.4" text-anchor="middle" fill="#3a3a3a" stroke="#3a3a3a" stroke-width="0" font-weight="normal" opacity="1">Sensitivity</text>
<text class="ff-n" x="608.4" y="169.3" font-size="5.9" text-anchor="middle" fill="#111" opacity="1" font-weight="bold" textLength="74.4" lengthAdjust="spacingAndGlyphs">ROC Curve Comparison</text>
<line x1="552.00" y1="302.5" x2="552.00" y2="372" stroke="#ececec" stroke-width="0.6"/>
<line x1="582.83" y1="302.5" x2="582.83" y2="372" stroke="#ececec" stroke-width="0.6"/>
<line x1="613.65" y1="302.5" x2="613.65" y2="372" stroke="#ececec" stroke-width="0.6"/>
<line x1="644.47" y1="302.5" x2="644.47" y2="372" stroke="#ececec" stroke-width="0.6"/>
<line x1="675.30" y1="302.5" x2="675.30" y2="372" stroke="#ececec" stroke-width="0.6"/>
<line x1="548" y1="369.10" x2="680" y2="369.10" stroke="#ececec" stroke-width="0.6"/>
<line x1="548" y1="356.24" x2="680" y2="356.24" stroke="#ececec" stroke-width="0.6"/>
<line x1="548" y1="343.38" x2="680" y2="343.38" stroke="#ececec" stroke-width="0.6"/>
<line x1="548" y1="330.52" x2="680" y2="330.52" stroke="#ececec" stroke-width="0.6"/>
<line x1="548" y1="317.66" x2="680" y2="317.66" stroke="#ececec" stroke-width="0.6"/>
<line x1="548" y1="304.80" x2="680" y2="304.80" stroke="#ececec" stroke-width="0.6"/>
<line x1="552.2" y1="304.8" x2="586.9" y2="375.4" stroke="#c8c8c8" stroke-width="0.5"/>
<line x1="552.2" y1="304.8" x2="593.9" y2="375.4" stroke="#c8c8c8" stroke-width="0.5"/>
<line x1="552.2" y1="304.8" x2="599.9" y2="375.4" stroke="#c8c8c8" stroke-width="0.5"/>
<line x1="552.2" y1="369.2" x2="675.3" y2="369.2" stroke="#555" stroke-width="0.55"/>
<polyline points="552.2,304.8 559.2,310.7 566.7,313.8 574.2,318.9 583,319.5 589.3,322 595.6,324.5 599,326.9 605.3,328.1 611.6,331.3 617.8,335 624.1,338.2 631.6,339.4 637.9,341.3 641.7,347 649.2,348.9 655.5,348.9 661.8,350.7 669.3,351.4 675.3,349.5" fill="none" stroke="#44ee44" stroke-width="0.6" opacity="0.95" stroke-linejoin="miter" />
<polyline points="552.2,304.8 555.4,315.1 557.9,322.6 564.2,326.4 570.5,331.4 576.7,332 580.5,336.4 584.3,341.5 588,345.2 591.8,347.7 594.3,350 599,353.9 604,358.9 609,361.4 614.1,365.8 620.3,368.3 627.9,368.9 636.7,366.4 644.2,367.1 651.7,367.1 659.3,367.7 666.8,366.4 675.3,364.5" fill="none" stroke="#44ee44" stroke-width="0.6" opacity="0.95" stroke-linejoin="miter" />
<polyline points="552.2,304.8 560.4,310.7 567.9,313.8 574.2,318.9 579.2,325.1 584.3,328.3 590.5,328.9 596.8,330.2 601.8,332 606.5,334.4 614.1,332.5 621.6,333.8 627.9,338.2 631.6,337.6 636.7,341.3 641.7,341.3 646.7,350.1 651.7,348.2 658,346.3 664.3,350.1 670.6,351.4 675.3,348.9" fill="none" stroke="#4040ff" stroke-width="0.6" opacity="0.95" stroke-linejoin="miter" />
<polyline points="552.2,304.8 557.9,313.8 564.2,320.1 570.5,327.6 575.5,335.2 578,338.9 583,340.8 588,342.7 591.8,345.2 596.8,349 599,348.9 606.5,350.7 611.6,358.9 617.8,366.4 621.6,369.6 631.6,368.3 637.9,365.2 645.5,366.4 650.5,368.9 656.8,368.3 661.8,365.2 666.8,368.9 675.3,368.9" fill="none" stroke="#4040ff" stroke-width="0.6" opacity="0.95" stroke-linejoin="miter" />
<polyline points="552.2,304.8 561.7,309.4 569.2,312 576.7,314.5 581.8,314.5 585.5,317.6 589.3,322 594.3,323.2 600.6,322.4 606.5,326.3 611.6,330.6 617.8,333.2 624.1,333.8 630.4,330 634.8,330.6 637.9,336.3 641.7,337.6 645.5,341.9 651.7,343.2 656.8,344.5 661.8,341.9 665.5,347 670.6,345.7 675.3,345.1" fill="none" stroke="#ff4848" stroke-width="0.6" opacity="0.95" stroke-linejoin="miter" />
<polyline points="552.2,304.8 559.2,315.1 564.2,321.4 570.5,328.3 576.7,332.7 579.2,340.2 584.3,341.5 589.3,344 594.3,347.7 596.8,350 599,353.9 605.3,357.6 609,362.7 615.3,368.9 621.6,373.3 625.4,372.7 629.1,369.6 634.2,370.8 640.4,371.5 646.7,373.3 653,372.7 655.5,370.2 660.5,372.7 666.8,373.3 675.3,372.1" fill="none" stroke="#ff4848" stroke-width="0.6" opacity="0.95" stroke-linejoin="miter" />
<polyline points="552.2,304.8 559.2,312.6 565.4,317 571.7,322 578,328.9 584.3,331.4 591.8,335.2 596.8,340.2 600.5,343.8 605.3,347.6 611.6,349.5 616.6,358.9 624.1,360.2 629.1,360.8 634.2,365.8 640.4,366.4 646.7,366.4 651.7,367.7 656.8,365.8 661.8,369.6 669.3,369.6 675.3,368.3" fill="none" stroke="#18e018" stroke-width="0.85" opacity="1" stroke-linejoin="miter" />
<polyline points="552.2,304.8 561.7,312.6 569.2,317.6 574.2,320.1 579.2,324.5 584.3,327.6 590.5,330.8 596.8,333.9 602,337.2 606.5,340.2 615.3,345.1 621.6,345.7 627.9,344.5 636.7,347 645.5,350.1 651.7,353.9 658,358.3 664.3,360.2 669.3,363.3 675.3,364.5" fill="none" stroke="#ff2020" stroke-width="0.85" opacity="1" stroke-linejoin="miter" />
<polyline points="552.2,304.8 557.9,311.3 564.2,316.3 569.2,321.4 574.2,326.4 578,332 583,336.4 588,338.9 594.3,338.9 599.3,342.3 605.3,347 611.6,347.6 616.6,347.6 622.9,351.4 627.9,353.9 631.6,357.6 636.7,357.6 641.7,358.9 649.2,356.4 655.5,358.3 661.8,358.9 669.3,359.5 675.3,359.2" fill="none" stroke="#2020ff" stroke-width="0.95" opacity="1" stroke-linejoin="miter" />
<line x1="547.9" y1="304.8" x2="547.9" y2="369.1" stroke="#7a7a7a" stroke-width="0.7"/>
<line x1="545.3" y1="369.10" x2="547.9" y2="369.10" stroke="#7a7a7a" stroke-width="0.6"/>
<text class="ff-n" transform="translate(541.7,369.2) scale(1.35,1.0) rotate(-90)" font-size="2.9" text-anchor="middle" fill="#1a1a1a" stroke="#1a1a1a" stroke-width="0.12" font-weight="normal" opacity="1">0.0</text>
<line x1="545.3" y1="356.24" x2="547.9" y2="356.24" stroke="#7a7a7a" stroke-width="0.6"/>
<text class="ff-n" transform="translate(541.7,356.34) scale(1.35,1.0) rotate(-90)" font-size="2.9" text-anchor="middle" fill="#1a1a1a" stroke="#1a1a1a" stroke-width="0.12" font-weight="normal" opacity="1">0.2</text>
<line x1="545.3" y1="343.38" x2="547.9" y2="343.38" stroke="#7a7a7a" stroke-width="0.6"/>
<text class="ff-n" transform="translate(541.7,343.48) scale(1.35,1.0) rotate(-90)" font-size="2.9" text-anchor="middle" fill="#1a1a1a" stroke="#1a1a1a" stroke-width="0.12" font-weight="normal" opacity="1">0.4</text>
<line x1="545.3" y1="330.52" x2="547.9" y2="330.52" stroke="#7a7a7a" stroke-width="0.6"/>
<text class="ff-n" transform="translate(541.7,330.62) scale(1.35,1.0) rotate(-90)" font-size="2.9" text-anchor="middle" fill="#1a1a1a" stroke="#1a1a1a" stroke-width="0.12" font-weight="normal" opacity="1">0.6</text>
<line x1="545.3" y1="317.66" x2="547.9" y2="317.66" stroke="#7a7a7a" stroke-width="0.6"/>
<text class="ff-n" transform="translate(541.7,317.76) scale(1.35,1.0) rotate(-90)" font-size="2.9" text-anchor="middle" fill="#1a1a1a" stroke="#1a1a1a" stroke-width="0.12" font-weight="normal" opacity="1">0.8</text>
<line x1="545.3" y1="304.80" x2="547.9" y2="304.80" stroke="#7a7a7a" stroke-width="0.6"/>
<text class="ff-n" transform="translate(541.7,304.9) scale(1.35,1.0) rotate(-90)" font-size="2.9" text-anchor="middle" fill="#1a1a1a" stroke="#1a1a1a" stroke-width="0.12" font-weight="normal" opacity="1">1.0</text>
<text class="ff-n" x="532.7" y="339.0" font-size="4.4" text-anchor="middle" fill="#1a1a1a" opacity="1" font-weight="normal" stroke="#1a1a1a" stroke-width="0.1" textLength="43.0" lengthAdjust="spacingAndGlyphs" transform="rotate(-90 532.7 339.0)">Standardized Net Benefit</text>
<line x1="552.0" y1="375.7" x2="675.3" y2="375.7" stroke="#7a7a7a" stroke-width="0.7"/>
<line x1="552.00" y1="375.7" x2="552.00" y2="377.6" stroke="#7a7a7a" stroke-width="0.6"/>
<text class="ff-n" x="552.0" y="383.3" font-size="4.2" text-anchor="middle" fill="#1a1a1a" opacity="1" font-weight="normal" stroke="#1a1a1a" stroke-width="0.12" textLength="5.8" lengthAdjust="spacingAndGlyphs">0.0</text>
<line x1="582.83" y1="375.7" x2="582.83" y2="377.6" stroke="#7a7a7a" stroke-width="0.6"/>
<text class="ff-n" x="582.83" y="383.3" font-size="4.2" text-anchor="middle" fill="#1a1a1a" opacity="1" font-weight="normal" stroke="#1a1a1a" stroke-width="0.12" textLength="5.8" lengthAdjust="spacingAndGlyphs">0.1</text>
<line x1="613.65" y1="375.7" x2="613.65" y2="377.6" stroke="#7a7a7a" stroke-width="0.6"/>
<text class="ff-n" x="613.65" y="383.3" font-size="4.2" text-anchor="middle" fill="#1a1a1a" opacity="1" font-weight="normal" stroke="#1a1a1a" stroke-width="0.12" textLength="5.8" lengthAdjust="spacingAndGlyphs">0.2</text>
<line x1="644.47" y1="375.7" x2="644.47" y2="377.6" stroke="#7a7a7a" stroke-width="0.6"/>
<text class="ff-n" x="644.47" y="383.3" font-size="4.2" text-anchor="middle" fill="#1a1a1a" opacity="1" font-weight="normal" stroke="#1a1a1a" stroke-width="0.12" textLength="5.8" lengthAdjust="spacingAndGlyphs">0.3</text>
<line x1="675.30" y1="375.7" x2="675.30" y2="377.6" stroke="#7a7a7a" stroke-width="0.6"/>
<text class="ff-n" x="675.3" y="383.3" font-size="4.2" text-anchor="middle" fill="#1a1a1a" opacity="1" font-weight="normal" stroke="#1a1a1a" stroke-width="0.12" textLength="5.8" lengthAdjust="spacingAndGlyphs">0.4</text>
<text class="ff-n" x="613.5" y="389.8" font-size="4.2" text-anchor="middle" fill="#1a1a1a" opacity="1" font-weight="normal" stroke="#1a1a1a" stroke-width="0.12" textLength="36.0" lengthAdjust="spacingAndGlyphs">High Risk Threshold</text>
<line x1="555.5" y1="394.6" x2="675.3" y2="394.6" stroke="#7a7a7a" stroke-width="0.7"/>
<line x1="555.5" y1="394.6" x2="555.5" y2="396.5" stroke="#7a7a7a" stroke-width="0.6"/>
<text class="ff-n" x="555.5" y="403.0" font-size="4.2" text-anchor="middle" fill="#1a1a1a" opacity="1" font-weight="normal" stroke="#1a1a1a" stroke-width="0.12" textLength="9.0" lengthAdjust="spacingAndGlyphs">1:100</text>
<line x1="580.6" y1="394.6" x2="580.6" y2="396.5" stroke="#7a7a7a" stroke-width="0.6"/>
<text class="ff-n" x="580.6" y="403.0" font-size="4.2" text-anchor="middle" fill="#1a1a1a" opacity="1" font-weight="normal" stroke="#1a1a1a" stroke-width="0.12" textLength="7.2" lengthAdjust="spacingAndGlyphs">1:10</text>
<line x1="603.7" y1="394.6" x2="603.7" y2="396.5" stroke="#7a7a7a" stroke-width="0.6"/>
<text class="ff-n" x="603.7" y="403.0" font-size="4.2" text-anchor="middle" fill="#1a1a1a" opacity="1" font-weight="normal" stroke="#1a1a1a" stroke-width="0.12" textLength="5.2" lengthAdjust="spacingAndGlyphs">1:5</text>
<line x1="629.3" y1="394.6" x2="629.3" y2="396.5" stroke="#7a7a7a" stroke-width="0.6"/>
<text class="ff-n" x="629.3" y="403.0" font-size="4.2" text-anchor="middle" fill="#1a1a1a" opacity="1" font-weight="normal" stroke="#1a1a1a" stroke-width="0.12" textLength="5.2" lengthAdjust="spacingAndGlyphs">1:3</text>
<line x1="655.2" y1="394.6" x2="655.2" y2="396.5" stroke="#7a7a7a" stroke-width="0.6"/>
<text class="ff-n" x="655.2" y="403.0" font-size="4.2" text-anchor="middle" fill="#1a1a1a" opacity="1" font-weight="normal" stroke="#1a1a1a" stroke-width="0.12" textLength="5.2" lengthAdjust="spacingAndGlyphs">1:2</text>
<line x1="675.3" y1="394.6" x2="675.3" y2="396.5" stroke="#7a7a7a" stroke-width="0.6"/>
<text class="ff-n" x="675.3" y="403.0" font-size="4.2" text-anchor="middle" fill="#1a1a1a" opacity="1" font-weight="normal" stroke="#1a1a1a" stroke-width="0.12" textLength="5.2" lengthAdjust="spacingAndGlyphs">2:3</text>
<text class="ff-n" x="613.5" y="408.3" font-size="4.2" text-anchor="middle" fill="#1a1a1a" opacity="1" font-weight="normal" stroke="#1a1a1a" stroke-width="0.12" textLength="32.5" lengthAdjust="spacingAndGlyphs">Cost:Benefit Ratio</text>
<rect x="632.2" y="302.3" width="48.0" height="27.9" fill="#fff" stroke="#7a7a7a" stroke-width="0.8"/>
<line x1="635.7" y1="306.8" x2="643.8" y2="306.8" stroke="#4646ff" stroke-width="1.3"/>
<text class="ff-n" x="647.1" y="308.3" font-size="4.4" text-anchor="start" fill="#161616" opacity="1" font-weight="normal" stroke="#161616" stroke-width="0.1" textLength="30.9" lengthAdjust="spacingAndGlyphs">Radiomics Model</text>
<line x1="635.7" y1="311.6" x2="643.8" y2="311.6" stroke="#4cf04c" stroke-width="0.9"/>
<text class="ff-n" x="647.1" y="313.1" font-size="4.4" text-anchor="start" fill="#161616" opacity="1" font-weight="normal" stroke="#161616" stroke-width="0.1" textLength="25.2" lengthAdjust="spacingAndGlyphs">Clinical Model</text>
<line x1="635.7" y1="316.3" x2="643.8" y2="316.3" stroke="#ff4646" stroke-width="0.9"/>
<text class="ff-n" x="647.1" y="317.8" font-size="4.4" text-anchor="start" fill="#161616" opacity="1" font-weight="normal" stroke="#161616" stroke-width="0.1" textLength="30.7" lengthAdjust="spacingAndGlyphs">Combined Model</text>
<line x1="635.7" y1="321.2" x2="643.8" y2="321.2" stroke="#dcdcdc" stroke-width="0.5"/>
<text class="ff-n" x="647.1" y="322.7" font-size="4.4" text-anchor="start" fill="#161616" opacity="1" font-weight="normal" stroke="#161616" stroke-width="0.1" textLength="4.6" lengthAdjust="spacingAndGlyphs">All</text>
<line x1="635.7" y1="325.8" x2="643.8" y2="325.8" stroke="#6a6a6a" stroke-width="1.3"/>
<text class="ff-n" x="647.1" y="327.3" font-size="4.4" text-anchor="start" fill="#161616" opacity="1" font-weight="normal" stroke="#161616" stroke-width="0.1" textLength="9.6" lengthAdjust="spacingAndGlyphs">None</text>
</svg>
</body></html>
